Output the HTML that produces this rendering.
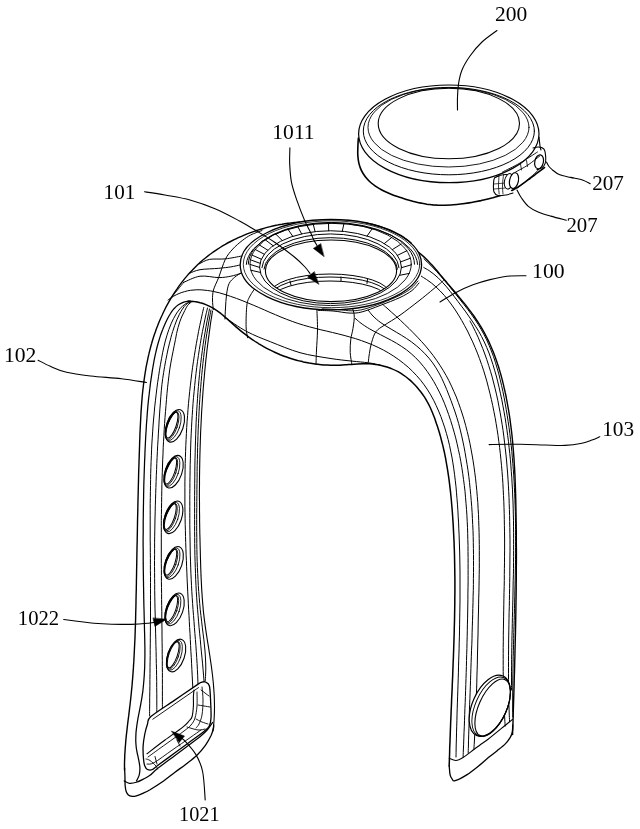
<!DOCTYPE html>
<html><head><meta charset="utf-8"><style>
html,body{margin:0;padding:0;background:#fff;width:640px;height:829px;overflow:hidden}
svg{display:block}
text{font-family:"Liberation Serif",serif;fill:#000;stroke:none}
svg{filter:grayscale(1)}
</style></head><body>
<svg width="640" height="829" viewBox="0 0 640 829" fill="none" stroke="#000" stroke-width="1.1" stroke-linecap="round" stroke-linejoin="round">
<path d="M358.4,138.0C358.3,139.0 358.1,141.9 358.0,143.9C357.9,145.9 357.8,148.0 357.8,150.1C357.7,152.1 357.7,154.2 357.9,156.3C358.0,158.3 358.3,160.3 358.7,162.3C359.1,164.3 359.7,166.2 360.4,168.1C361.1,170.0 362.0,171.8 363.1,173.5C364.1,175.1 365.3,176.8 366.6,178.3C367.8,179.8 369.2,181.2 370.7,182.5C372.2,183.8 373.8,185.0 375.4,186.2C377.0,187.3 378.8,188.3 380.5,189.3C382.3,190.3 384.1,191.2 386.0,192.0C387.9,192.9 389.8,193.7 391.7,194.4C393.6,195.2 395.6,195.9 397.6,196.6C399.5,197.2 401.5,197.9 403.4,198.5C405.4,199.1 407.3,199.7 409.3,200.3C411.2,200.8 413.2,201.4 415.1,201.8C417.1,202.3 419.0,202.8 421.0,203.1C423.0,203.5 424.9,203.9 426.9,204.2C428.9,204.4 430.8,204.7 432.8,204.9C434.8,205.0 436.8,205.1 438.8,205.2C440.8,205.3 442.8,205.3 444.8,205.3C446.8,205.2 448.8,205.1 450.9,205.0C452.9,204.9 454.9,204.7 456.9,204.5C458.9,204.3 460.9,204.1 462.9,203.8C465.0,203.5 467.0,203.2 469.0,202.9C471.0,202.6 473.0,202.2 475.0,201.8C477.0,201.4 479.0,201.0 481.0,200.6C483.0,200.1 485.0,199.7 486.9,199.2C488.9,198.7 490.9,198.2 492.8,197.7C494.8,197.1 496.7,196.6 498.6,196.0C500.5,195.4 502.4,194.7 504.3,194.0C506.1,193.2 507.9,192.4 509.7,191.6C511.5,190.7 513.3,189.8 515.0,188.8C516.8,187.8 518.5,186.7 520.1,185.6C521.8,184.5 523.5,183.3 525.1,182.1C526.8,181.0 528.4,179.7 530.0,178.5C531.6,177.3 533.2,176.0 534.9,174.8C536.5,173.6 538.1,172.3 539.7,171.1C541.3,169.9 543.7,168.1 544.5,167.5" stroke-width="1.6"/>
<ellipse cx="448.8" cy="133.85" rx="90.2" ry="48.85" stroke-width="1.2"/>
<ellipse cx="448.85" cy="131.1" rx="85.55" ry="43.7" stroke-width="1.0"/>
<ellipse cx="448.5" cy="127.35" rx="80.5" ry="39.65" stroke-width="0.9"/>
<ellipse cx="448.85" cy="123.55" rx="70.65" ry="35.25" stroke-width="1.1"/>
<path d="M539.0,137.0C539.2,138.5 539.7,143.8 540.0,146.0C540.3,148.2 540.8,149.3 541.0,150.0"/>
<path d="M499.0,176.0C498.2,176.3 495.4,176.7 494.5,178.0C493.6,179.3 493.6,181.7 493.5,184.0C493.4,186.3 493.2,190.1 494.0,192.0C494.8,193.9 496.0,195.0 498.0,195.5C500.0,196.0 503.5,195.4 506.0,195.0C508.5,194.6 511.8,193.3 513.0,193.0" stroke-width="1.1" fill="#fff"/>
<path d="M494.5,178.0C495.3,177.6 497.6,176.1 499.5,175.5C501.4,174.9 503.9,174.6 506.0,174.5C508.1,174.4 510.2,174.8 512.0,175.0C513.8,175.2 516.2,175.8 517.0,176.0" stroke-width="1.0"/>
<path d="M499.0,176.0C498.9,177.7 498.5,183.0 498.5,186.0C498.5,189.0 499.1,192.7 499.2,194.0" stroke-width="0.8"/>
<path d="M494.0,184.0L505.0,183.0" stroke-width="0.7"/>
<path d="M494.0,189.0L505.0,188.0" stroke-width="0.7"/>
<path d="M503.5,175.0C503.3,176.7 502.6,181.8 502.5,185.0C502.4,188.2 502.9,192.5 503.0,194.0" stroke-width="0.8"/>
<ellipse cx="508.8" cy="181.3" rx="4.3" ry="7.8" transform="rotate(12 508.8 181.3)" stroke-width="1.0" fill="#fff"/>
<ellipse cx="514" cy="180.6" rx="4.4" ry="8" transform="rotate(12 514 180.6)" stroke-width="1.2" fill="#fff"/>
<path d="M533.0,148.0C533.9,147.8 536.8,146.8 538.6,147.0C540.4,147.2 542.8,147.5 544.0,149.2C545.2,150.8 545.5,154.5 545.7,156.9C545.9,159.3 545.8,161.6 545.2,163.4C544.6,165.2 543.3,166.8 541.9,167.8C540.5,168.8 537.8,169.2 537.0,169.5" stroke-width="1.1"/>
<ellipse cx="539.1" cy="161.8" rx="4.3" ry="7.1" transform="rotate(12 539.1 161.8)" stroke-width="1.2" fill="#fff"/>
<path d="M502.5,172.0C505.4,170.5 514.2,166.3 520.0,163.0C525.8,159.7 534.6,153.8 537.5,152.0" stroke-width="0.9"/>
<path d="M515.6,172.0C517.7,170.8 524.0,167.7 528.0,165.0C532.0,162.3 537.8,157.5 539.7,156.0" stroke-width="0.9"/>
<path d="M520.5,164.0L521.5,170.0" stroke-width="0.8"/>
<path d="M526.5,160.5L527.5,166.5" stroke-width="0.8"/>
<path d="M517.8,188.0C520.5,185.7 530.5,177.3 534.2,174.0C537.9,170.7 539.0,169.0 540.0,168.0" stroke-width="0.9"/>
<path d="M300.0,222.0C299.0,222.1 296.0,222.3 294.0,222.5C292.1,222.7 290.1,223.0 288.1,223.2C286.1,223.5 284.1,223.8 282.1,224.2C280.1,224.5 278.2,224.9 276.2,225.3C274.2,225.7 272.2,226.1 270.3,226.6C268.3,227.1 266.4,227.6 264.4,228.2C262.5,228.7 260.5,229.3 258.6,229.9C256.7,230.5 254.7,231.1 252.8,231.8C250.9,232.5 249.0,233.2 247.1,233.9C245.3,234.7 243.4,235.5 241.5,236.3C239.7,237.1 237.8,237.9 236.0,238.8C234.2,239.7 232.4,240.6 230.6,241.5C228.8,242.4 227.0,243.4 225.3,244.4C223.5,245.4 221.8,246.4 220.1,247.5C218.4,248.6 216.7,249.7 215.0,250.8C213.4,251.9 211.8,253.1 210.1,254.3C208.5,255.5 207.0,256.7 205.4,258.0C203.8,259.2 202.3,260.5 200.8,261.8C199.3,263.2 197.8,264.5 196.4,265.9C195.0,267.3 193.6,268.7 192.2,270.2C190.8,271.6 189.5,273.1 188.1,274.6C186.8,276.1 185.5,277.6 184.3,279.1C183.0,280.7 181.8,282.3 180.6,283.9C179.4,285.5 178.2,287.1 177.1,288.8C175.9,290.4 174.8,292.1 173.7,293.8C172.7,295.5 171.6,297.2 170.6,298.9C169.6,300.6 168.6,302.4 167.6,304.2C166.6,305.9 165.7,307.7 164.8,309.5C163.9,311.3 163.0,313.1 162.2,315.0C161.3,316.8 160.5,318.6 159.7,320.5C158.9,322.3 158.2,324.2 157.5,326.1C156.7,328.0 156.0,329.9 155.4,331.8C154.7,333.7 154.0,335.6 153.4,337.5C152.8,339.4 152.2,341.3 151.7,343.2C151.1,345.2 150.6,347.1 150.1,349.1C149.6,351.0 149.1,352.9 148.7,354.9C148.2,356.8 147.8,358.8 147.4,360.8C147.0,362.7 146.6,364.7 146.2,366.7C145.9,368.6 145.5,370.6 145.2,372.6C144.9,374.6 144.6,376.6 144.3,378.6C144.0,380.5 143.8,382.5 143.5,384.5C143.3,386.5 143.1,388.5 142.8,390.5C142.6,392.5 142.4,394.5 142.2,396.5C142.1,398.5 141.9,400.6 141.7,402.6C141.6,404.6 141.4,406.6 141.3,408.6C141.1,410.6 141.0,412.6 140.9,414.7C140.8,416.7 140.7,418.7 140.6,420.7C140.5,422.7 140.4,424.7 140.3,426.8C140.2,428.8 140.1,430.8 140.0,432.8C139.9,434.8 139.9,436.9 139.8,438.9C139.7,440.9 139.6,442.9 139.6,444.9C139.5,447.0 139.4,449.0 139.4,451.0C139.3,453.0 139.2,455.0 139.2,457.0C139.1,459.0 139.0,461.1 139.0,463.1C138.9,465.1 138.9,467.1 138.8,469.1C138.7,471.1 138.7,473.1 138.6,475.1C138.6,477.2 138.5,479.2 138.5,481.2C138.4,483.2 138.4,485.2 138.3,487.2C138.3,489.2 138.2,491.2 138.2,493.2C138.1,495.2 138.1,497.2 138.0,499.3C138.0,501.3 137.9,503.3 137.9,505.3C137.8,507.3 137.8,509.3 137.8,511.3C137.7,513.3 137.7,515.3 137.6,517.3C137.6,519.3 137.5,521.3 137.5,523.3C137.5,525.3 137.4,527.3 137.4,529.3C137.4,531.4 137.3,533.4 137.3,535.4C137.2,537.4 137.2,539.4 137.2,541.4C137.1,543.4 137.1,545.4 137.0,547.4C137.0,549.4 137.0,551.4 136.9,553.4C136.9,555.4 136.9,557.4 136.8,559.4C136.8,561.4 136.8,563.4 136.7,565.4C136.7,567.5 136.6,569.5 136.6,571.5C136.6,573.5 136.5,575.5 136.5,577.5C136.4,579.5 136.4,581.5 136.4,583.5C136.3,585.5 136.3,587.5 136.3,589.5C136.2,591.5 136.2,593.6 136.1,595.6C136.1,597.6 136.0,599.6 136.0,601.6C136.0,603.6 135.9,605.6 135.9,607.6C135.8,609.6 135.8,611.6 135.7,613.7C135.7,615.7 135.6,617.7 135.6,619.7C135.5,621.7 135.4,623.7 135.4,625.7C135.3,627.7 135.2,629.7 135.2,631.7C135.1,633.8 135.0,635.8 135.0,637.8C134.9,639.8 134.8,641.8 134.7,643.8C134.6,645.8 134.5,647.8 134.4,649.8C134.3,651.8 134.2,653.9 134.1,655.9C134.0,657.9 133.9,659.9 133.8,661.9C133.6,663.9 133.5,665.9 133.4,667.9C133.2,669.9 133.1,671.9 133.0,673.9C132.8,675.9 132.7,677.9 132.5,679.9C132.3,681.9 132.2,683.9 132.0,686.0C131.8,688.0 131.6,690.0 131.4,692.0C131.2,694.0 131.0,696.0 130.8,698.0C130.6,700.0 130.3,702.0 130.1,704.0C129.9,706.0 129.6,707.9 129.4,709.9C129.2,711.9 128.9,713.9 128.7,715.9C128.4,717.9 128.2,719.9 127.9,721.9C127.7,723.9 127.4,725.9 127.2,727.9C127.0,729.9 126.8,731.9 126.5,733.9C126.3,735.9 126.1,737.9 125.9,739.9C125.7,741.9 125.6,743.9 125.4,745.9C125.2,747.9 125.1,749.9 125.0,751.9C124.8,753.9 124.7,755.9 124.7,757.9C124.6,759.9 124.5,761.9 124.5,764.0C124.5,766.0 124.5,769.0 124.5,770.0" stroke-width="1.4"/>
<path d="M190.0,301.0C189.0,301.2 185.8,301.6 183.8,302.2C181.9,302.9 180.0,303.8 178.4,304.8C176.7,305.9 175.3,307.3 174.0,308.7C172.7,310.2 171.5,311.8 170.5,313.5C169.4,315.2 168.4,317.0 167.5,318.8C166.6,320.6 165.7,322.4 164.9,324.2C164.1,326.1 163.3,327.9 162.6,329.8C161.8,331.7 161.2,333.5 160.5,335.4C159.9,337.4 159.3,339.3 158.7,341.2C158.1,343.1 157.6,345.1 157.1,347.0C156.6,349.0 156.1,351.0 155.7,352.9C155.2,354.9 154.8,356.9 154.4,358.9C154.0,360.9 153.7,362.9 153.3,364.9C153.0,366.9 152.6,368.9 152.3,370.9C152.0,372.9 151.7,374.9 151.4,376.9C151.1,378.9 150.8,380.9 150.5,382.9C150.3,384.9 150.0,386.9 149.8,388.9C149.5,390.9 149.3,392.9 149.1,394.9C148.8,396.9 148.6,398.9 148.4,400.9C148.2,402.9 148.0,404.9 147.8,406.9C147.7,408.9 147.5,410.9 147.3,412.9C147.2,414.9 147.0,416.9 146.9,418.9C146.7,420.9 146.6,422.9 146.4,425.0C146.3,427.0 146.2,429.0 146.1,431.0C145.9,433.0 145.8,435.0 145.7,437.0C145.6,439.0 145.5,441.0 145.4,443.0C145.3,445.0 145.2,447.1 145.1,449.1C145.0,451.1 144.9,453.1 144.9,455.1C144.8,457.1 144.7,459.1 144.6,461.1C144.5,463.1 144.5,465.1 144.4,467.2C144.3,469.2 144.3,471.2 144.2,473.2C144.1,475.2 144.1,477.2 144.0,479.2C143.9,481.2 143.9,483.3 143.8,485.3C143.8,487.3 143.7,489.3 143.7,491.3C143.6,493.3 143.6,495.3 143.6,497.3C143.5,499.4 143.5,501.4 143.5,503.4C143.4,505.4 143.4,507.4 143.4,509.4C143.3,511.4 143.3,513.5 143.3,515.5C143.3,517.5 143.2,519.5 143.2,521.5C143.2,523.5 143.2,525.5 143.2,527.6C143.2,529.6 143.2,531.6 143.2,533.6C143.1,535.6 143.1,537.6 143.1,539.7C143.1,541.7 143.1,543.7 143.1,545.7C143.2,547.7 143.2,549.7 143.2,551.8C143.2,553.8 143.2,555.8 143.2,557.8C143.2,559.8 143.2,561.8 143.2,563.9C143.3,565.9 143.3,567.9 143.3,569.9C143.3,571.9 143.4,573.9 143.4,576.0C143.4,578.0 143.4,580.0 143.5,582.0C143.5,584.0 143.5,586.0 143.6,588.1C143.6,590.1 143.6,592.1 143.7,594.1C143.7,596.1 143.7,598.2 143.8,600.2C143.8,602.2 143.9,604.2 143.9,606.2C144.0,608.2 144.0,610.3 144.1,612.3C144.1,614.3 144.2,616.3 144.2,618.3C144.3,620.4 144.3,622.4 144.4,624.4C144.4,626.4 144.5,628.4 144.5,630.5C144.6,632.5 144.6,634.5 144.7,636.5C144.7,638.5 144.8,640.5 144.8,642.6C144.8,644.6 144.9,646.6 144.9,648.6C144.9,650.6 144.9,652.6 144.9,654.7C144.9,656.7 144.9,658.7 144.8,660.7C144.8,662.7 144.7,664.7 144.7,666.7C144.6,668.7 144.5,670.7 144.4,672.8C144.3,674.8 144.2,676.8 144.0,678.8C143.9,680.8 143.7,682.8 143.5,684.8C143.3,686.8 143.1,688.8 142.9,690.8C142.6,692.8 142.3,694.8 142.0,696.8C141.7,698.7 141.4,700.7 141.0,702.7C140.7,704.7 140.3,706.7 139.9,708.7C139.5,710.7 139.1,712.7 138.7,714.6C138.3,716.6 137.9,718.6 137.6,720.6C137.3,722.6 136.9,724.6 136.7,726.6C136.4,728.6 136.2,730.6 136.0,732.6C135.9,734.6 135.8,736.6 135.8,738.6C135.7,740.6 135.8,742.6 136.0,744.7C136.1,746.7 136.4,748.7 136.8,750.8C137.1,752.8 137.6,754.9 138.1,756.9C138.5,759.0 139.0,761.0 139.3,763.1C139.7,765.1 140.0,767.1 139.9,769.1C139.9,771.2 139.8,773.2 139.2,775.1C138.6,777.1 136.9,780.0 136.5,781.0" stroke-width="1.25"/>
<path d="M190.0,301.5C189.1,302.0 186.3,303.3 184.7,304.4C183.1,305.6 181.7,306.9 180.3,308.3C179.0,309.8 177.8,311.4 176.7,313.0C175.6,314.7 174.6,316.5 173.7,318.3C172.8,320.0 171.9,321.9 171.1,323.8C170.3,325.6 169.6,327.5 168.9,329.4C168.2,331.3 167.6,333.2 167.0,335.1C166.4,337.1 165.9,339.0 165.3,341.0C164.8,342.9 164.4,344.9 163.9,346.9C163.5,348.9 163.0,350.8 162.6,352.8C162.2,354.8 161.9,356.8 161.5,358.8C161.1,360.8 160.8,362.8 160.4,364.8C160.1,366.8 159.8,368.8 159.4,370.8C159.1,372.8 158.8,374.8 158.5,376.8C158.2,378.8 157.9,380.8 157.6,382.8C157.4,384.8 157.1,386.8 156.8,388.9C156.6,390.9 156.3,392.9 156.1,394.9C155.8,396.9 155.6,398.9 155.4,400.9C155.2,402.9 154.9,404.9 154.7,406.9C154.5,408.9 154.3,410.9 154.2,412.9C154.0,415.0 153.8,417.0 153.6,419.0C153.5,421.0 153.3,423.0 153.1,425.0C153.0,427.0 152.8,429.0 152.7,431.1C152.6,433.1 152.4,435.1 152.3,437.1C152.2,439.1 152.1,441.1 151.9,443.1C151.8,445.2 151.7,447.2 151.6,449.2C151.5,451.2 151.4,453.2 151.4,455.2C151.3,457.3 151.2,459.3 151.1,461.3C151.0,463.3 151.0,465.3 150.9,467.3C150.8,469.4 150.8,471.4 150.7,473.4C150.7,475.4 150.6,477.4 150.6,479.5C150.5,481.5 150.5,483.5 150.5,485.5C150.4,487.5 150.4,489.6 150.4,491.6C150.3,493.6 150.3,495.6 150.3,497.6C150.3,499.7 150.2,501.7 150.2,503.7C150.2,505.7 150.2,507.7 150.2,509.8C150.2,511.8 150.2,513.8 150.2,515.8C150.2,517.9 150.2,519.9 150.2,521.9C150.2,523.9 150.2,525.9 150.2,528.0C150.2,530.0 150.2,532.0 150.2,534.0C150.2,536.1 150.2,538.1 150.2,540.1C150.3,542.1 150.3,544.2 150.3,546.2C150.3,548.2 150.3,550.2 150.3,552.2C150.3,554.3 150.3,556.3 150.4,558.3C150.4,560.3 150.4,562.4 150.4,564.4C150.4,566.4 150.4,568.4 150.4,570.5C150.4,572.5 150.5,574.5 150.5,576.5C150.5,578.5 150.5,580.6 150.5,582.6C150.5,584.6 150.5,586.6 150.5,588.7C150.5,590.7 150.5,592.7 150.5,594.7C150.5,596.7 150.5,598.8 150.5,600.8C150.5,602.8 150.5,604.8 150.5,606.9C150.5,608.9 150.5,610.9 150.5,612.9C150.5,614.9 150.5,617.0 150.5,619.0C150.5,621.0 150.4,623.0 150.4,625.0C150.4,627.1 150.4,629.1 150.4,631.1C150.4,633.1 150.4,635.2 150.3,637.2C150.3,639.2 150.3,641.2 150.3,643.2C150.3,645.3 150.2,647.3 150.2,649.3C150.2,651.3 150.2,653.3 150.2,655.4C150.2,657.4 150.1,659.4 150.1,661.4C150.1,663.4 150.1,665.5 150.0,667.5C150.0,669.5 150.0,671.5 150.0,673.5C150.0,675.6 149.9,677.6 149.9,679.6C149.9,681.6 149.9,683.7 149.9,685.7C149.8,687.7 149.8,689.7 149.8,691.7C149.8,693.8 149.8,695.8 149.7,697.8C149.7,699.8 149.7,701.8 149.7,703.9C149.7,705.9 149.7,707.9 149.6,709.9C149.6,712.0 149.6,715.0 149.6,716.0" stroke-width="1.0"/>
<path d="M191.0,301.5C190.2,302.0 187.5,303.3 186.0,304.5C184.6,305.8 183.5,307.5 182.4,309.1C181.3,310.7 180.4,312.5 179.4,314.3C178.5,316.1 177.6,318.0 176.8,319.9C176.0,321.8 175.3,323.7 174.6,325.7C173.9,327.6 173.3,329.5 172.7,331.5C172.0,333.4 171.5,335.3 171.0,337.3C170.4,339.2 169.9,341.1 169.5,343.1C169.0,345.0 168.5,347.0 168.1,348.9C167.7,350.9 167.3,352.8 166.9,354.8C166.5,356.8 166.1,358.7 165.7,360.7C165.4,362.7 165.0,364.7 164.6,366.7C164.3,368.7 163.9,370.7 163.6,372.7C163.3,374.7 162.9,376.7 162.7,378.7C162.4,380.7 162.1,382.7 161.9,384.8C161.7,386.8 161.5,388.8 161.3,390.8C161.1,392.8 160.9,394.8 160.8,396.8C160.6,398.9 160.5,400.9 160.4,402.9C160.2,404.9 160.1,406.9 159.9,408.9C159.8,410.9 159.7,413.0 159.5,415.0C159.4,417.0 159.3,419.0 159.1,421.0C159.0,423.0 158.9,425.1 158.8,427.1C158.6,429.1 158.5,431.1 158.4,433.1C158.3,435.1 158.2,437.2 158.1,439.2C158.0,441.2 157.8,443.2 157.7,445.2C157.6,447.2 157.5,449.3 157.4,451.3C157.3,453.3 157.2,455.3 157.1,457.3C157.0,459.4 156.9,461.4 156.8,463.4C156.7,465.4 156.7,467.4 156.6,469.5C156.5,471.5 156.4,473.5 156.3,475.5C156.2,477.5 156.2,479.6 156.1,481.6C156.0,483.6 155.9,485.6 155.9,487.6C155.8,489.7 155.7,491.7 155.7,493.7C155.6,495.7 155.5,497.7 155.5,499.8C155.4,501.8 155.4,503.8 155.3,505.8C155.3,507.8 155.2,509.9 155.2,511.9C155.1,513.9 155.1,515.9 155.0,518.0C155.0,520.0 154.9,522.0 154.9,524.0C154.9,526.0 154.8,528.1 154.8,530.1C154.8,532.1 154.7,534.1 154.7,536.1C154.7,538.2 154.7,540.2 154.6,542.2C154.6,544.2 154.6,546.3 154.6,548.3C154.6,550.3 154.6,552.3 154.6,554.3C154.5,556.4 154.5,558.4 154.5,560.4C154.5,562.4 154.5,564.5 154.5,566.5C154.5,568.5 154.6,570.5 154.6,572.5C154.6,574.6 154.6,576.6 154.6,578.6C154.6,580.6 154.6,582.7 154.7,584.7C154.7,586.7 154.7,588.7 154.7,590.7C154.8,592.8 154.8,594.8 154.8,596.8C154.9,598.8 154.9,600.8 154.9,602.9C155.0,604.9 155.0,606.9 155.0,608.9C155.1,610.9 155.1,613.0 155.2,615.0C155.2,617.0 155.3,619.0 155.3,621.0C155.4,623.1 155.4,625.1 155.5,627.1C155.5,629.1 155.6,631.2 155.6,633.2C155.7,635.2 155.7,637.2 155.8,639.2C155.8,641.3 155.9,643.3 155.9,645.3C156.0,647.3 156.0,649.3 156.1,651.4C156.1,653.4 156.2,655.4 156.2,657.4C156.3,659.4 156.3,661.5 156.3,663.5C156.4,665.5 156.4,667.5 156.5,669.5C156.5,671.6 156.5,673.6 156.6,675.6C156.6,677.6 156.6,679.6 156.7,681.7C156.7,683.7 156.7,685.7 156.7,687.7C156.8,689.8 156.8,691.8 156.8,693.8C156.8,695.8 156.8,697.8 156.8,699.9C156.8,701.9 156.8,703.9 156.8,705.9C156.8,708.0 156.8,711.0 156.8,712.0" stroke-width="1.0"/>
<path d="M192.0,301.5C191.3,302.1 188.9,303.8 187.7,305.3C186.5,306.8 185.7,308.7 184.8,310.5C183.8,312.3 182.9,314.1 182.1,316.0C181.2,317.9 180.5,319.8 179.8,321.8C179.1,323.7 178.5,325.6 178.0,327.6C177.5,329.5 177.0,331.5 176.6,333.4C176.2,335.4 175.8,337.3 175.5,339.3C175.1,341.3 174.7,343.3 174.3,345.2C173.9,347.2 173.5,349.2 173.1,351.2C172.7,353.2 172.2,355.2 171.9,357.2C171.5,359.1 171.1,361.1 170.8,363.1C170.4,365.1 170.1,367.1 169.8,369.1C169.5,371.2 169.3,373.2 169.0,375.2C168.7,377.2 168.5,379.2 168.3,381.2C168.0,383.2 167.8,385.2 167.6,387.2C167.4,389.2 167.2,391.3 167.0,393.3C166.8,395.3 166.6,397.3 166.5,399.3C166.3,401.3 166.1,403.4 166.0,405.4C165.8,407.4 165.6,409.4 165.5,411.4C165.3,413.5 165.2,415.5 165.0,417.5C164.9,419.5 164.8,421.5 164.6,423.5C164.5,425.6 164.4,427.6 164.2,429.6C164.1,431.6 164.0,433.6 163.9,435.7C163.8,437.7 163.7,439.7 163.5,441.7C163.4,443.8 163.3,445.8 163.2,447.8C163.1,449.8 163.1,451.8 163.0,453.9C162.9,455.9 162.8,457.9 162.7,459.9C162.6,462.0 162.6,464.0 162.5,466.0C162.4,468.0 162.3,470.0 162.3,472.1C162.2,474.1 162.2,476.1 162.1,478.1C162.0,480.2 162.0,482.2 161.9,484.2C161.9,486.2 161.8,488.3 161.8,490.3C161.7,492.3 161.7,494.3 161.7,496.4C161.6,498.4 161.6,500.4 161.6,502.4C161.5,504.5 161.5,506.5 161.5,508.5C161.4,510.5 161.4,512.6 161.4,514.6C161.4,516.6 161.4,518.6 161.3,520.7C161.3,522.7 161.3,524.7 161.3,526.7C161.3,528.8 161.3,530.8 161.3,532.8C161.3,534.8 161.3,536.9 161.3,538.9C161.3,540.9 161.3,542.9 161.3,545.0C161.3,547.0 161.3,549.0 161.3,551.0C161.3,553.1 161.3,555.1 161.3,557.1C161.3,559.2 161.3,561.2 161.3,563.2C161.3,565.2 161.3,567.3 161.4,569.3C161.4,571.3 161.4,573.3 161.4,575.4C161.4,577.4 161.4,579.4 161.4,581.4C161.5,583.5 161.5,585.5 161.5,587.5C161.5,589.5 161.5,591.6 161.6,593.6C161.6,595.6 161.6,597.6 161.6,599.7C161.7,601.7 161.7,603.7 161.7,605.7C161.7,607.8 161.7,609.8 161.8,611.8C161.8,613.8 161.8,615.9 161.8,617.9C161.9,619.9 161.9,621.9 161.9,624.0C161.9,626.0 162.0,628.0 162.0,630.0C162.0,632.1 162.0,634.1 162.0,636.1C162.1,638.1 162.1,640.1 162.1,642.2C162.1,644.2 162.2,646.2 162.2,648.2C162.2,650.3 162.2,652.3 162.2,654.3C162.3,656.3 162.3,658.4 162.3,660.4C162.3,662.4 162.3,664.4 162.3,666.5C162.3,668.5 162.4,670.5 162.4,672.5C162.4,674.6 162.4,676.6 162.4,678.6C162.4,680.6 162.4,682.7 162.4,684.7C162.4,686.7 162.4,688.7 162.4,690.8C162.4,692.8 162.4,694.8 162.4,696.8C162.4,698.9 162.4,700.9 162.4,702.9C162.4,704.9 162.4,708.0 162.4,709.0" stroke-width="1.0"/>
<path d="M203.8,307.5C203.5,308.5 202.8,311.5 202.4,313.4C201.9,315.4 201.5,317.4 201.1,319.4C200.6,321.4 200.2,323.4 199.8,325.4C199.4,327.4 199.0,329.3 198.6,331.3C198.2,333.3 197.8,335.3 197.5,337.3C197.1,339.3 196.7,341.3 196.4,343.3C196.0,345.3 195.7,347.3 195.4,349.3C195.0,351.3 194.7,353.2 194.4,355.2C194.1,357.2 193.8,359.2 193.5,361.2C193.2,363.2 192.9,365.2 192.6,367.2C192.4,369.2 192.1,371.2 191.8,373.2C191.6,375.2 191.3,377.2 191.1,379.2C190.8,381.2 190.6,383.2 190.4,385.2C190.1,387.3 189.9,389.3 189.7,391.3C189.5,393.3 189.3,395.3 189.1,397.3C188.9,399.3 188.7,401.3 188.5,403.3C188.4,405.3 188.2,407.3 188.0,409.3C187.9,411.3 187.7,413.3 187.6,415.4C187.4,417.4 187.3,419.4 187.1,421.4C187.0,423.4 186.9,425.4 186.7,427.4C186.6,429.4 186.5,431.4 186.4,433.5C186.3,435.5 186.2,437.5 186.1,439.5C186.0,441.5 185.9,443.5 185.8,445.5C185.7,447.6 185.6,449.6 185.6,451.6C185.5,453.6 185.4,455.6 185.4,457.6C185.3,459.7 185.3,461.7 185.2,463.7C185.2,465.7 185.1,467.7 185.1,469.7C185.0,471.8 185.0,473.8 185.0,475.8C185.0,477.8 184.9,479.8 184.9,481.9C184.9,483.9 184.9,485.9 184.9,487.9C184.9,489.9 184.9,492.0 184.9,494.0C184.9,496.0 184.9,498.0 184.9,500.0C184.9,502.1 184.9,504.1 184.9,506.1C185.0,508.1 185.0,510.2 185.0,512.2C185.0,514.2 185.1,516.2 185.1,518.2C185.1,520.3 185.2,522.3 185.2,524.3C185.3,526.3 185.3,528.4 185.4,530.4C185.4,532.4 185.5,534.4 185.5,536.4C185.6,538.5 185.6,540.5 185.7,542.5C185.8,544.5 185.8,546.6 185.9,548.6C186.0,550.6 186.0,552.6 186.1,554.7C186.2,556.7 186.3,558.7 186.4,560.7C186.4,562.7 186.5,564.8 186.6,566.8C186.7,568.8 186.8,570.8 186.9,572.9C186.9,574.9 187.0,576.9 187.1,578.9C187.2,581.0 187.3,583.0 187.4,585.0C187.5,587.0 187.6,589.0 187.7,591.1C187.8,593.1 187.9,595.1 188.0,597.1C188.1,599.2 188.2,601.2 188.3,603.2C188.4,605.2 188.5,607.2 188.6,609.3C188.7,611.3 188.9,613.3 189.0,615.3C189.1,617.3 189.2,619.4 189.3,621.4C189.4,623.4 189.5,625.4 189.6,627.4C189.7,629.5 189.8,631.5 190.0,633.5C190.1,635.5 190.2,637.5 190.3,639.6C190.4,641.6 190.5,643.6 190.6,645.6C190.7,647.6 190.8,649.7 190.9,651.7C191.1,653.7 191.2,655.7 191.3,657.7C191.4,659.7 191.5,661.8 191.6,663.8C191.7,665.8 191.8,667.8 191.9,669.8C192.0,671.8 192.1,673.8 192.2,675.9C192.3,677.9 192.4,679.9 192.5,681.9C192.6,683.9 192.7,685.9 192.8,687.9C192.9,689.9 193.0,692.0 193.1,694.0C193.2,696.0 193.4,699.0 193.4,700.0" stroke-width="1.0"/>
<path d="M207.5,308.0C207.3,309.0 206.6,311.9 206.1,313.9C205.7,315.9 205.2,317.9 204.8,319.8C204.4,321.8 204.0,323.8 203.6,325.8C203.2,327.7 202.8,329.7 202.4,331.7C202.0,333.7 201.6,335.7 201.3,337.7C200.9,339.6 200.6,341.6 200.3,343.6C199.9,345.6 199.6,347.6 199.3,349.6C199.0,351.6 198.7,353.6 198.4,355.6C198.1,357.6 197.8,359.6 197.5,361.6C197.2,363.5 197.0,365.5 196.7,367.5C196.5,369.5 196.2,371.5 196.0,373.5C195.7,375.5 195.5,377.6 195.3,379.6C195.1,381.6 194.9,383.6 194.7,385.6C194.5,387.6 194.3,389.6 194.1,391.6C193.9,393.6 193.7,395.6 193.5,397.6C193.4,399.6 193.2,401.6 193.0,403.7C192.9,405.7 192.7,407.7 192.6,409.7C192.5,411.7 192.3,413.7 192.2,415.7C192.1,417.7 191.9,419.8 191.8,421.8C191.7,423.8 191.6,425.8 191.5,427.8C191.4,429.8 191.3,431.9 191.2,433.9C191.1,435.9 191.0,437.9 190.9,439.9C190.9,442.0 190.8,444.0 190.7,446.0C190.7,448.0 190.6,450.0 190.5,452.1C190.5,454.1 190.4,456.1 190.4,458.1C190.3,460.1 190.3,462.2 190.2,464.2C190.2,466.2 190.1,468.2 190.1,470.2C190.1,472.3 190.0,474.3 190.0,476.3C190.0,478.3 190.0,480.4 189.9,482.4C189.9,484.4 189.9,486.4 189.9,488.4C189.9,490.5 189.8,492.5 189.8,494.5C189.8,496.5 189.8,498.5 189.8,500.6C189.8,502.6 189.8,504.6 189.8,506.6C189.8,508.6 189.8,510.7 189.8,512.7C189.8,514.7 189.8,516.7 189.8,518.7C189.8,520.8 189.8,522.8 189.8,524.8C189.9,526.8 189.9,528.8 189.9,530.9C189.9,532.9 189.9,534.9 190.0,536.9C190.0,538.9 190.0,540.9 190.1,543.0C190.1,545.0 190.1,547.0 190.2,549.0C190.2,551.0 190.3,553.0 190.3,555.1C190.4,557.1 190.4,559.1 190.5,561.1C190.6,563.1 190.6,565.1 190.7,567.1C190.8,569.2 190.9,571.2 190.9,573.2C191.0,575.2 191.1,577.2 191.2,579.2C191.3,581.2 191.4,583.2 191.5,585.3C191.6,587.3 191.7,589.3 191.8,591.3C192.0,593.3 192.1,595.3 192.2,597.3C192.3,599.3 192.5,601.4 192.6,603.4C192.7,605.4 192.9,607.4 193.0,609.4C193.2,611.4 193.3,613.4 193.5,615.4C193.6,617.4 193.8,619.4 194.0,621.5C194.1,623.5 194.3,625.5 194.4,627.5C194.6,629.5 194.8,631.5 194.9,633.5C195.1,635.5 195.2,637.5 195.4,639.5C195.5,641.6 195.7,643.6 195.9,645.6C196.0,647.6 196.2,649.6 196.3,651.6C196.4,653.6 196.6,655.6 196.7,657.6C196.8,659.7 197.0,661.7 197.1,663.7C197.2,665.7 197.3,667.7 197.4,669.7C197.5,671.7 197.6,673.8 197.7,675.8C197.8,677.8 197.9,679.8 197.9,681.8C198.0,683.8 198.0,685.9 198.1,687.9C198.1,689.9 198.1,691.9 198.1,693.9C198.1,696.0 198.1,699.0 198.1,700.0" stroke-width="1.0"/>
<path d="M209.5,309.0C209.3,310.0 208.7,313.0 208.3,314.9C207.9,316.9 207.5,318.9 207.1,320.9C206.7,322.8 206.4,324.8 206.0,326.8C205.7,328.8 205.3,330.8 205.0,332.8C204.6,334.7 204.3,336.7 204.0,338.7C203.7,340.7 203.4,342.7 203.1,344.7C202.8,346.7 202.5,348.7 202.3,350.7C202.0,352.7 201.7,354.6 201.5,356.6C201.2,358.6 201.0,360.6 200.8,362.6C200.5,364.6 200.3,366.6 200.1,368.6C199.9,370.6 199.7,372.6 199.5,374.6C199.3,376.6 199.1,378.6 198.9,380.6C198.7,382.6 198.5,384.6 198.4,386.6C198.2,388.6 198.1,390.6 197.9,392.6C197.8,394.6 197.6,396.6 197.5,398.7C197.3,400.7 197.2,402.7 197.1,404.7C197.0,406.7 196.8,408.7 196.7,410.7C196.6,412.7 196.5,414.7 196.4,416.7C196.3,418.7 196.2,420.7 196.1,422.8C196.0,424.8 195.9,426.8 195.9,428.8C195.8,430.8 195.7,432.8 195.7,434.8C195.6,436.8 195.5,438.9 195.5,440.9C195.4,442.9 195.3,444.9 195.3,446.9C195.2,448.9 195.2,450.9 195.2,452.9C195.1,455.0 195.1,457.0 195.0,459.0C195.0,461.0 195.0,463.0 194.9,465.0C194.9,467.0 194.9,469.1 194.8,471.1C194.8,473.1 194.8,475.1 194.8,477.1C194.8,479.1 194.7,481.2 194.7,483.2C194.7,485.2 194.7,487.2 194.7,489.2C194.7,491.2 194.7,493.2 194.6,495.3C194.6,497.3 194.6,499.3 194.6,501.3C194.6,503.3 194.6,505.3 194.6,507.3C194.6,509.4 194.6,511.4 194.6,513.4C194.6,515.4 194.6,517.4 194.6,519.4C194.6,521.4 194.6,523.5 194.6,525.5C194.6,527.5 194.6,529.5 194.6,531.5C194.6,533.5 194.6,535.5 194.7,537.5C194.7,539.6 194.7,541.6 194.7,543.6C194.7,545.6 194.8,547.6 194.8,549.6C194.8,551.6 194.9,553.6 194.9,555.6C195.0,557.6 195.0,559.7 195.1,561.7C195.1,563.7 195.2,565.7 195.3,567.7C195.3,569.7 195.4,571.7 195.5,573.7C195.5,575.7 195.6,577.7 195.7,579.7C195.8,581.7 195.9,583.8 196.0,585.8C196.1,587.8 196.2,589.8 196.3,591.8C196.4,593.8 196.6,595.8 196.7,597.8C196.8,599.8 197.0,601.8 197.1,603.8C197.3,605.8 197.4,607.8 197.6,609.8C197.7,611.8 197.9,613.8 198.1,615.8C198.2,617.8 198.4,619.8 198.6,621.8C198.7,623.8 198.9,625.8 199.1,627.8C199.3,629.8 199.5,631.8 199.7,633.8C199.9,635.8 200.1,637.8 200.3,639.8C200.4,641.8 200.6,643.8 200.8,645.8C201.0,647.8 201.2,649.8 201.4,651.9C201.6,653.9 201.8,655.9 202.0,657.9C202.2,659.9 202.4,661.9 202.6,663.9C202.7,665.9 202.9,667.9 203.1,669.9C203.3,671.9 203.4,673.9 203.6,675.9C203.8,677.9 203.9,679.9 204.1,681.9C204.2,683.9 204.4,685.9 204.5,687.9C204.6,689.9 204.8,692.0 204.9,694.0C205.0,696.0 205.1,699.0 205.2,700.0" stroke-width="1.0"/>
<path d="M211.0,310.0C210.8,311.0 210.2,314.0 209.9,315.9C209.5,317.9 209.1,319.9 208.8,321.9C208.4,323.8 208.1,325.8 207.8,327.8C207.5,329.8 207.1,331.8 206.8,333.7C206.5,335.7 206.2,337.7 205.9,339.7C205.7,341.7 205.4,343.6 205.1,345.6C204.8,347.6 204.6,349.6 204.3,351.6C204.1,353.6 203.8,355.6 203.6,357.5C203.4,359.5 203.1,361.5 202.9,363.5C202.7,365.5 202.5,367.5 202.3,369.5C202.1,371.5 201.9,373.4 201.7,375.4C201.5,377.4 201.3,379.4 201.2,381.4C201.0,383.4 200.8,385.4 200.7,387.4C200.5,389.4 200.4,391.4 200.2,393.4C200.1,395.4 199.9,397.3 199.8,399.3C199.7,401.3 199.5,403.3 199.4,405.3C199.3,407.3 199.2,409.3 199.1,411.3C199.0,413.3 198.9,415.3 198.8,417.3C198.7,419.3 198.6,421.3 198.5,423.3C198.4,425.3 198.3,427.3 198.2,429.3C198.2,431.3 198.1,433.3 198.0,435.3C197.9,437.3 197.9,439.3 197.8,441.3C197.8,443.3 197.7,445.3 197.6,447.3C197.6,449.3 197.5,451.3 197.5,453.3C197.4,455.3 197.4,457.3 197.4,459.3C197.3,461.3 197.3,463.3 197.2,465.3C197.2,467.3 197.2,469.3 197.1,471.3C197.1,473.3 197.1,475.3 197.1,477.3C197.0,479.3 197.0,481.3 197.0,483.3C197.0,485.3 196.9,487.3 196.9,489.3C196.9,491.3 196.9,493.3 196.9,495.3C196.8,497.3 196.8,499.3 196.8,501.3C196.8,503.3 196.8,505.3 196.8,507.3C196.8,509.3 196.7,511.3 196.7,513.4C196.7,515.4 196.7,517.4 196.7,519.4C196.7,521.4 196.7,523.4 196.7,525.4C196.7,527.4 196.7,529.4 196.7,531.4C196.7,533.4 196.7,535.4 196.8,537.4C196.8,539.4 196.8,541.4 196.8,543.4C196.8,545.4 196.9,547.4 196.9,549.4C196.9,551.4 197.0,553.4 197.0,555.4C197.1,557.4 197.1,559.4 197.2,561.4C197.3,563.4 197.3,565.4 197.4,567.4C197.5,569.4 197.6,571.4 197.7,573.4C197.7,575.4 197.8,577.4 198.0,579.4C198.1,581.4 198.2,583.4 198.3,585.4C198.4,587.4 198.6,589.4 198.7,591.4C198.8,593.4 199.0,595.4 199.2,597.3C199.3,599.3 199.5,601.3 199.7,603.3C199.9,605.3 200.0,607.3 200.2,609.3C200.4,611.3 200.7,613.3 200.9,615.3C201.1,617.2 201.3,619.2 201.6,621.2C201.8,623.2 202.0,625.2 202.3,627.2C202.5,629.2 202.8,631.1 203.0,633.1C203.3,635.1 203.5,637.1 203.8,639.1C204.0,641.1 204.2,643.1 204.4,645.0C204.6,647.0 204.8,649.0 205.0,651.0C205.2,653.0 205.3,655.0 205.4,657.0C205.6,659.0 205.7,661.0 205.7,663.0C205.8,665.0 205.8,667.0 205.8,669.0C205.8,671.0 205.7,673.0 205.6,675.0C205.5,677.0 205.3,680.0 205.2,681.0" stroke-width="1.0"/>
<path d="M212.5,311.0C212.3,312.0 211.9,315.0 211.6,317.0C211.2,319.0 210.9,320.9 210.6,322.9C210.3,324.9 210.1,326.9 209.8,328.9C209.5,330.9 209.2,332.9 209.0,334.9C208.7,336.9 208.4,338.9 208.2,340.8C207.9,342.8 207.7,344.8 207.4,346.8C207.2,348.8 206.9,350.8 206.7,352.8C206.5,354.8 206.3,356.8 206.0,358.8C205.8,360.8 205.6,362.8 205.4,364.8C205.2,366.8 205.0,368.8 204.8,370.8C204.6,372.8 204.4,374.8 204.3,376.8C204.1,378.8 203.9,380.8 203.7,382.8C203.6,384.8 203.4,386.8 203.2,388.8C203.1,390.8 202.9,392.8 202.8,394.8C202.6,396.8 202.5,398.8 202.4,400.8C202.2,402.8 202.1,404.8 202.0,406.8C201.8,408.8 201.7,410.8 201.6,412.8C201.5,414.8 201.4,416.8 201.3,418.8C201.2,420.8 201.1,422.8 201.0,424.8C200.9,426.8 200.8,428.8 200.7,430.8C200.6,432.8 200.5,434.8 200.5,436.8C200.4,438.8 200.3,440.9 200.3,442.9C200.2,444.9 200.1,446.9 200.1,448.9C200.0,450.9 200.0,452.9 199.9,454.9C199.9,456.9 199.8,458.9 199.8,460.9C199.7,462.9 199.7,464.9 199.7,466.9C199.6,468.9 199.6,471.0 199.6,473.0C199.5,475.0 199.5,477.0 199.5,479.0C199.5,481.0 199.5,483.0 199.5,485.0C199.5,487.0 199.4,489.0 199.4,491.0C199.4,493.0 199.4,495.1 199.4,497.1C199.4,499.1 199.5,501.1 199.5,503.1C199.5,505.1 199.5,507.1 199.5,509.1C199.5,511.1 199.5,513.1 199.6,515.1C199.6,517.2 199.6,519.2 199.6,521.2C199.7,523.2 199.7,525.2 199.7,527.2C199.8,529.2 199.8,531.2 199.8,533.2C199.9,535.2 199.9,537.2 200.0,539.2C200.0,541.3 200.1,543.3 200.1,545.3C200.2,547.3 200.2,549.3 200.3,551.3C200.3,553.3 200.4,555.3 200.4,557.3C200.5,559.3 200.6,561.3 200.6,563.3C200.7,565.4 200.7,567.4 200.8,569.4C200.9,571.4 201.0,573.4 201.0,575.4C201.1,577.4 201.2,579.4 201.3,581.4C201.4,583.4 201.5,585.4 201.6,587.4C201.7,589.4 201.8,591.4 202.0,593.4C202.1,595.4 202.2,597.4 202.4,599.4C202.5,601.4 202.7,603.4 202.9,605.4C203.1,607.4 203.2,609.4 203.4,611.4C203.6,613.4 203.9,615.4 204.1,617.4C204.3,619.4 204.6,621.4 204.9,623.4C205.1,625.3 205.4,627.3 205.7,629.3C206.0,631.3 206.3,633.3 206.6,635.3C206.9,637.3 207.2,639.2 207.5,641.2C207.8,643.2 208.2,645.2 208.5,647.2C208.8,649.2 209.1,651.1 209.4,653.1C209.7,655.1 210.1,657.1 210.3,659.1C210.6,661.1 210.9,663.1 211.2,665.1C211.5,667.1 211.7,669.1 212.0,671.1C212.2,673.1 212.5,675.1 212.7,677.0C212.9,679.0 213.1,681.0 213.3,683.0C213.5,685.0 213.6,687.0 213.8,689.1C213.9,691.1 214.1,693.1 214.2,695.1C214.3,697.1 214.3,699.1 214.4,701.1C214.4,703.1 214.5,705.1 214.5,707.1C214.5,709.1 214.4,711.1 214.4,713.1C214.3,715.1 214.2,717.1 214.1,719.0C214.0,721.0 213.8,723.0 213.7,725.0C213.5,727.0 213.1,730.0 213.0,731.0" stroke-width="1.1"/>
<path d="M188.0,301.2C189.0,301.3 192.2,301.3 194.2,301.6C196.3,301.8 198.2,302.2 200.2,302.8C202.1,303.3 204.0,303.9 205.8,304.6C207.7,305.4 209.4,306.2 211.2,307.2C212.9,308.1 214.6,309.1 216.2,310.2C217.9,311.3 219.5,312.5 221.1,313.7C222.6,315.0 224.2,316.3 225.7,317.6C227.2,318.9 228.7,320.2 230.2,321.6C231.7,322.9 233.2,324.3 234.7,325.6C236.2,327.0 237.8,328.3 239.3,329.6C240.8,330.9 242.4,332.2 244.0,333.4C245.6,334.7 247.2,335.9 248.8,337.1C250.4,338.3 252.1,339.4 253.7,340.5C255.4,341.7 257.1,342.7 258.8,343.8C260.5,344.8 262.2,345.9 264.0,346.8C265.7,347.8 267.5,348.8 269.3,349.7C271.1,350.6 272.9,351.5 274.7,352.3C276.6,353.1 278.4,353.9 280.3,354.7C282.1,355.4 284.0,356.2 285.9,356.8C287.8,357.5 289.7,358.2 291.6,358.8C293.6,359.4 295.5,359.9 297.4,360.4C299.4,361.0 301.4,361.4 303.3,361.9C305.3,362.3 307.3,362.7 309.2,363.1C311.2,363.4 313.2,363.7 315.2,364.0C317.2,364.3 319.2,364.5 321.2,364.7C323.2,364.9 325.2,365.0 327.3,365.1C329.3,365.2 331.3,365.3 333.3,365.3C335.3,365.3 337.4,365.2 339.4,365.2C341.4,365.1 343.4,364.9 345.4,364.8C347.5,364.7 349.5,364.5 351.5,364.4C353.5,364.2 355.5,364.1 357.5,364.0C359.5,363.9 361.5,363.8 363.5,363.7C365.5,363.7 367.5,363.7 369.5,363.8C371.5,363.9 373.5,364.1 375.4,364.4C377.4,364.6 379.4,365.0 381.3,365.4C383.2,365.8 385.2,366.4 387.0,367.0C388.9,367.6 390.8,368.3 392.6,369.1C394.4,369.8 396.2,370.7 398.0,371.7C399.7,372.7 401.4,373.7 403.1,374.9C404.8,376.0 406.4,377.2 408.0,378.5C409.5,379.8 411.1,381.1 412.5,382.5C414.0,384.0 415.4,385.4 416.8,387.0C418.1,388.5 419.4,390.1 420.7,391.7C421.9,393.3 423.1,395.0 424.2,396.7C425.3,398.4 426.3,400.1 427.3,401.9C428.3,403.6 429.2,405.4 430.1,407.3C430.9,409.1 431.7,410.9 432.5,412.7C433.2,414.6 434.0,416.5 434.7,418.3C435.3,420.2 436.0,422.1 436.6,424.0C437.3,425.9 437.9,427.8 438.5,429.7C439.1,431.6 439.6,433.5 440.2,435.4C440.7,437.4 441.2,439.3 441.7,441.2C442.2,443.2 442.7,445.1 443.2,447.1C443.6,449.0 444.1,451.0 444.5,452.9C444.9,454.9 445.3,456.9 445.7,458.8C446.0,460.8 446.4,462.8 446.7,464.8C447.1,466.7 447.4,468.7 447.7,470.7C448.0,472.7 448.3,474.7 448.6,476.7C448.9,478.7 449.2,480.7 449.4,482.7C449.7,484.7 449.9,486.7 450.1,488.7C450.4,490.7 450.6,492.7 450.8,494.7C451.0,496.7 451.2,498.7 451.4,500.8C451.5,502.8 451.7,504.8 451.9,506.8C452.1,508.8 452.2,510.8 452.4,512.8C452.5,514.8 452.7,516.8 452.8,518.9C452.9,520.9 453.1,522.9 453.2,524.9C453.3,526.9 453.4,528.9 453.5,530.9C453.6,532.9 453.7,534.9 453.8,537.0C453.9,539.0 454.0,541.0 454.1,543.0C454.1,545.0 454.2,547.0 454.3,549.0C454.4,551.0 454.4,553.0 454.5,555.0C454.5,557.1 454.6,559.1 454.6,561.1C454.7,563.1 454.7,565.1 454.7,567.1C454.8,569.1 454.8,571.1 454.8,573.1C454.8,575.1 454.9,577.1 454.9,579.2C454.9,581.2 454.9,583.2 454.9,585.2C454.9,587.2 454.9,589.2 454.9,591.2C454.9,593.2 454.9,595.2 454.8,597.2C454.8,599.2 454.8,601.2 454.8,603.3C454.8,605.3 454.7,607.3 454.7,609.3C454.7,611.3 454.6,613.3 454.6,615.3C454.6,617.3 454.5,619.3 454.5,621.3C454.4,623.3 454.4,625.3 454.3,627.3C454.3,629.4 454.2,631.4 454.2,633.4C454.1,635.4 454.0,637.4 454.0,639.4C453.9,641.4 453.9,643.4 453.8,645.4C453.7,647.4 453.7,649.4 453.6,651.4C453.5,653.5 453.4,655.5 453.4,657.5C453.3,659.5 453.2,661.5 453.1,663.5C453.1,665.5 453.0,667.5 452.9,669.5C452.8,671.5 452.7,673.5 452.7,675.5C452.6,677.6 452.5,679.6 452.4,681.6C452.3,683.6 452.2,685.6 452.2,687.6C452.1,689.6 452.0,691.6 451.9,693.6C451.8,695.6 451.7,697.6 451.6,699.6C451.6,701.7 451.5,703.7 451.4,705.7C451.3,707.7 451.2,709.7 451.1,711.7C451.1,713.7 451.0,715.7 450.9,717.7C450.8,719.7 450.7,721.8 450.6,723.8C450.6,725.8 450.5,727.8 450.4,729.8C450.3,731.8 450.3,733.8 450.2,735.8C450.1,737.8 450.0,739.8 450.0,741.9C449.9,743.9 449.8,745.9 449.7,747.9C449.7,749.9 449.6,751.9 449.6,753.9C449.5,755.9 449.4,758.0 449.4,760.0C449.3,762.0 449.2,765.0 449.2,766.0" stroke-width="1.5"/>
<path d="M414.0,249.0C414.8,249.6 417.3,251.3 418.9,252.5C420.4,253.8 421.9,255.1 423.4,256.4C424.9,257.7 426.3,259.1 427.7,260.5C429.1,261.9 430.4,263.4 431.8,264.8C433.1,266.3 434.4,267.8 435.7,269.3C437.0,270.8 438.3,272.3 439.6,273.9C440.9,275.4 442.1,277.0 443.4,278.5C444.7,280.0 446.0,281.6 447.3,283.1C448.6,284.6 449.9,286.2 451.2,287.7C452.5,289.2 453.9,290.8 455.2,292.3C456.5,293.9 457.8,295.4 459.0,297.0C460.3,298.5 461.6,300.1 462.9,301.7C464.2,303.2 465.4,304.8 466.7,306.4C467.9,308.0 469.1,309.6 470.3,311.2C471.5,312.8 472.7,314.4 473.9,316.0C475.0,317.7 476.1,319.3 477.2,321.0C478.3,322.7 479.4,324.3 480.4,326.0C481.5,327.7 482.5,329.5 483.4,331.2C484.4,332.9 485.3,334.7 486.3,336.5C487.2,338.2 488.0,340.0 488.9,341.8C489.7,343.6 490.5,345.4 491.3,347.2C492.1,349.1 492.8,350.9 493.6,352.8C494.3,354.6 495.0,356.5 495.7,358.4C496.4,360.2 497.0,362.1 497.6,364.0C498.3,365.9 498.9,367.8 499.4,369.7C500.0,371.7 500.6,373.6 501.1,375.5C501.6,377.4 502.1,379.4 502.6,381.3C503.1,383.3 503.6,385.2 504.0,387.2C504.5,389.1 504.9,391.1 505.3,393.0C505.8,395.0 506.2,397.0 506.5,398.9C506.9,400.9 507.3,402.9 507.6,404.8C508.0,406.8 508.3,408.8 508.7,410.8C509.0,412.7 509.3,414.7 509.6,416.7C509.9,418.7 510.2,420.7 510.4,422.6C510.7,424.6 510.9,426.6 511.2,428.6C511.4,430.6 511.7,432.6 511.9,434.5C512.1,436.5 512.3,438.5 512.5,440.5C512.7,442.5 512.9,444.5 513.0,446.5C513.2,448.5 513.4,450.5 513.5,452.5C513.7,454.5 513.8,456.4 514.0,458.4C514.1,460.4 514.2,462.4 514.3,464.4C514.5,466.4 514.6,468.4 514.7,470.4C514.8,472.4 514.9,474.4 515.0,476.4C515.1,478.4 515.1,480.4 515.2,482.4C515.3,484.4 515.4,486.4 515.4,488.4C515.5,490.4 515.6,492.4 515.6,494.4C515.7,496.4 515.7,498.4 515.8,500.4C515.8,502.4 515.9,504.4 515.9,506.4C515.9,508.5 516.0,510.5 516.0,512.5C516.0,514.5 516.1,516.5 516.1,518.5C516.1,520.5 516.2,522.5 516.2,524.5C516.2,526.5 516.2,528.5 516.3,530.5C516.3,532.5 516.3,534.5 516.3,536.5C516.3,538.5 516.3,540.5 516.3,542.5C516.3,544.5 516.4,546.5 516.4,548.5C516.4,550.5 516.4,552.5 516.4,554.5C516.4,556.5 516.4,558.5 516.4,560.5C516.4,562.5 516.4,564.5 516.3,566.5C516.3,568.5 516.3,570.5 516.3,572.5C516.3,574.5 516.3,576.5 516.3,578.5C516.3,580.5 516.2,582.5 516.2,584.5C516.2,586.5 516.2,588.5 516.2,590.5C516.1,592.5 516.1,594.5 516.1,596.5C516.1,598.5 516.0,600.5 516.0,602.5C516.0,604.5 515.9,606.5 515.9,608.5C515.9,610.5 515.8,612.5 515.8,614.5C515.8,616.5 515.7,618.5 515.7,620.5C515.7,622.5 515.6,624.5 515.6,626.5C515.5,628.5 515.5,630.5 515.5,632.5C515.4,634.5 515.4,636.5 515.3,638.5C515.3,640.5 515.2,642.5 515.2,644.5C515.1,646.5 515.1,648.5 515.0,650.5C515.0,652.5 514.9,654.5 514.9,656.5C514.8,658.5 514.8,660.5 514.7,662.5C514.7,664.5 514.6,666.5 514.6,668.5C514.5,670.5 514.5,672.5 514.4,674.5C514.3,676.5 514.3,678.5 514.2,680.5C514.2,682.5 514.1,684.5 514.1,686.5C514.0,688.5 513.9,690.5 513.9,692.5C513.8,694.5 513.8,696.5 513.7,698.5C513.6,700.5 513.6,702.5 513.5,704.5C513.5,706.5 513.4,708.5 513.3,710.5C513.3,712.5 513.2,714.5 513.2,716.5C513.1,718.5 513.0,720.5 513.0,722.5C512.9,724.5 512.8,726.5 512.8,728.5C512.7,730.5 512.6,733.5 512.6,734.5" stroke-width="1.4"/>
<path d="M424.0,259.0C424.7,259.7 427.0,261.7 428.4,263.1C429.9,264.5 431.3,265.9 432.7,267.3C434.1,268.8 435.4,270.2 436.8,271.7C438.1,273.2 439.5,274.7 440.8,276.2C442.1,277.7 443.4,279.2 444.7,280.7C446.0,282.3 447.3,283.8 448.6,285.4C449.9,286.9 451.1,288.5 452.4,290.1C453.7,291.7 454.9,293.2 456.2,294.8C457.5,296.4 458.8,298.0 460.0,299.6C461.3,301.2 462.6,302.8 463.8,304.4C465.1,306.0 466.3,307.6 467.6,309.2C468.8,310.8 470.0,312.4 471.2,314.1C472.4,315.7 473.5,317.4 474.7,319.1C475.8,320.7 476.9,322.4 478.0,324.1C479.1,325.8 480.1,327.5 481.1,329.3C482.1,331.0 483.1,332.8 484.0,334.6C484.9,336.3 485.8,338.1 486.7,339.9C487.5,341.7 488.3,343.6 489.1,345.4C489.9,347.2 490.7,349.1 491.4,351.0C492.1,352.8 492.8,354.7 493.5,356.6C494.1,358.5 494.8,360.4 495.4,362.3C496.0,364.2 496.6,366.1 497.1,368.1C497.7,370.0 498.2,371.9 498.8,373.9C499.3,375.8 499.8,377.8 500.2,379.7C500.7,381.7 501.2,383.7 501.6,385.6C502.1,387.6 502.5,389.6 502.9,391.5C503.3,393.5 503.7,395.5 504.1,397.5C504.5,399.5 504.8,401.5 505.2,403.4C505.6,405.4 505.9,407.4 506.2,409.4C506.6,411.4 506.9,413.4 507.2,415.4C507.5,417.3 507.8,419.3 508.1,421.3C508.4,423.3 508.7,425.3 509.0,427.3C509.3,429.3 509.5,431.3 509.8,433.3C510.0,435.3 510.3,437.3 510.5,439.3C510.7,441.3 510.9,443.3 511.2,445.3C511.4,447.3 511.6,449.3 511.8,451.3C512.0,453.3 512.2,455.3 512.3,457.3C512.5,459.3 512.7,461.3 512.8,463.3C513.0,465.3 513.2,467.3 513.3,469.3C513.4,471.3 513.6,473.3 513.7,475.3C513.8,477.3 514.0,479.3 514.1,481.3C514.2,483.3 514.3,485.3 514.4,487.3C514.5,489.3 514.6,491.4 514.7,493.4C514.8,495.4 514.8,497.4 514.9,499.4C515.0,501.4 515.0,503.4 515.1,505.4C515.2,507.4 515.2,509.5 515.3,511.5C515.3,513.5 515.4,515.5 515.4,517.5C515.4,519.5 515.5,521.5 515.5,523.5C515.5,525.6 515.5,527.6 515.6,529.6C515.6,531.6 515.6,533.6 515.6,535.6C515.6,537.7 515.6,539.7 515.6,541.7C515.6,543.7 515.6,545.7 515.6,547.7C515.6,549.8 515.6,551.8 515.6,553.8C515.5,555.8 515.5,557.8 515.5,559.8C515.5,561.9 515.4,563.9 515.4,565.9C515.4,567.9 515.4,569.9 515.3,572.0C515.3,574.0 515.2,576.0 515.2,578.0C515.2,580.0 515.1,582.0 515.1,584.1C515.0,586.1 515.0,588.1 514.9,590.1C514.9,592.1 514.8,594.2 514.8,596.2C514.7,598.2 514.7,600.2 514.6,602.2C514.6,604.3 514.5,606.3 514.5,608.3C514.4,610.3 514.4,612.3 514.3,614.3C514.3,616.4 514.2,618.4 514.2,620.4C514.1,622.4 514.0,624.4 514.0,626.5C513.9,628.5 513.9,630.5 513.8,632.5C513.8,634.5 513.7,636.5 513.7,638.6C513.6,640.6 513.6,642.6 513.5,644.6C513.5,646.6 513.4,648.6 513.4,650.7C513.3,652.7 513.3,654.7 513.2,656.7C513.2,658.7 513.1,660.7 513.1,662.7C513.1,664.8 513.0,666.8 513.0,668.8C513.0,670.8 512.9,672.8 512.9,674.8C512.9,676.8 512.8,678.9 512.8,680.9C512.8,682.9 512.8,684.9 512.8,686.9C512.7,688.9 512.7,690.9 512.7,692.9C512.7,694.9 512.7,696.9 512.7,698.9C512.7,701.0 512.7,703.0 512.7,705.0C512.7,707.0 512.7,709.0 512.7,711.0C512.8,713.0 512.8,716.0 512.8,717.0" stroke-width="1.0"/>
<path d="M423.8,267.5C424.6,268.0 427.4,269.5 429.1,270.6C430.8,271.7 432.4,272.9 433.9,274.2C435.5,275.4 437.0,276.8 438.4,278.1C439.9,279.5 441.3,280.9 442.6,282.4C444.0,283.9 445.3,285.4 446.6,286.9C447.9,288.5 449.2,290.0 450.4,291.6C451.7,293.2 452.9,294.8 454.1,296.4C455.4,298.1 456.6,299.7 457.8,301.3C459.1,302.9 460.3,304.6 461.5,306.2C462.7,307.8 464.0,309.5 465.2,311.1C466.4,312.8 467.6,314.4 468.7,316.1C469.9,317.7 471.1,319.4 472.2,321.1C473.3,322.8 474.5,324.5 475.5,326.2C476.6,327.9 477.7,329.6 478.7,331.3C479.7,333.1 480.7,334.8 481.6,336.6C482.6,338.4 483.5,340.2 484.3,342.0C485.2,343.8 486.0,345.6 486.7,347.4C487.5,349.3 488.2,351.1 489.0,353.0C489.7,354.9 490.3,356.8 491.0,358.7C491.6,360.6 492.3,362.5 492.9,364.4C493.5,366.3 494.1,368.2 494.6,370.2C495.2,372.1 495.7,374.1 496.3,376.0C496.8,378.0 497.3,380.0 497.8,381.9C498.3,383.9 498.7,385.9 499.2,387.8C499.7,389.8 500.1,391.8 500.5,393.8C501.0,395.8 501.4,397.8 501.8,399.8C502.2,401.8 502.6,403.7 502.9,405.7C503.3,407.7 503.7,409.7 504.0,411.7C504.4,413.7 504.7,415.7 505.1,417.7C505.4,419.7 505.7,421.7 506.0,423.7C506.3,425.7 506.6,427.7 506.9,429.7C507.2,431.7 507.4,433.7 507.7,435.7C508.0,437.7 508.2,439.7 508.5,441.7C508.7,443.7 508.9,445.7 509.1,447.7C509.4,449.7 509.6,451.7 509.8,453.7C510.0,455.7 510.2,457.7 510.4,459.8C510.5,461.8 510.7,463.8 510.9,465.8C511.0,467.8 511.2,469.8 511.3,471.8C511.5,473.8 511.6,475.8 511.8,477.8C511.9,479.9 512.0,481.9 512.1,483.9C512.2,485.9 512.4,487.9 512.5,489.9C512.6,491.9 512.6,494.0 512.7,496.0C512.8,498.0 512.9,500.0 513.0,502.0C513.0,504.0 513.1,506.0 513.2,508.1C513.2,510.1 513.3,512.1 513.3,514.1C513.4,516.1 513.4,518.2 513.5,520.2C513.5,522.2 513.5,524.2 513.5,526.2C513.6,528.3 513.6,530.3 513.6,532.3C513.6,534.3 513.6,536.3 513.6,538.4C513.6,540.4 513.6,542.4 513.6,544.4C513.6,546.4 513.6,548.5 513.6,550.5C513.6,552.5 513.6,554.5 513.6,556.6C513.6,558.6 513.6,560.6 513.5,562.6C513.5,564.7 513.5,566.7 513.5,568.7C513.4,570.7 513.4,572.7 513.4,574.8C513.3,576.8 513.3,578.8 513.2,580.8C513.2,582.9 513.2,584.9 513.1,586.9C513.1,588.9 513.0,591.0 513.0,593.0C513.0,595.0 512.9,597.0 512.9,599.1C512.8,601.1 512.8,603.1 512.7,605.1C512.7,607.2 512.6,609.2 512.6,611.2C512.5,613.2 512.5,615.2 512.4,617.3C512.4,619.3 512.4,621.3 512.3,623.3C512.3,625.4 512.2,627.4 512.2,629.4C512.1,631.4 512.1,633.5 512.0,635.5C512.0,637.5 512.0,639.5 511.9,641.5C511.9,643.6 511.8,645.6 511.8,647.6C511.8,649.6 511.7,651.7 511.7,653.7C511.7,655.7 511.6,657.7 511.6,659.7C511.6,661.8 511.6,663.8 511.6,665.8C511.5,667.8 511.5,669.8 511.5,671.8C511.5,673.9 511.5,675.9 511.5,677.9C511.5,679.9 511.5,681.9 511.5,684.0C511.5,686.0 511.5,689.0 511.5,690.0" stroke-width="1.0"/>
<path d="M470.0,321.0C470.5,321.9 471.9,324.5 472.8,326.3C473.8,328.1 474.7,329.9 475.5,331.7C476.4,333.6 477.2,335.4 478.1,337.2C478.9,339.1 479.7,340.9 480.4,342.8C481.2,344.6 482.0,346.5 482.7,348.4C483.4,350.2 484.1,352.1 484.8,354.0C485.5,355.9 486.2,357.8 486.8,359.7C487.5,361.7 488.1,363.6 488.7,365.5C489.3,367.4 489.9,369.4 490.5,371.3C491.1,373.2 491.6,375.2 492.2,377.1C492.7,379.1 493.2,381.0 493.7,383.0C494.2,385.0 494.7,386.9 495.2,388.9C495.7,390.9 496.1,392.9 496.6,394.9C497.0,396.8 497.4,398.8 497.9,400.8C498.3,402.8 498.7,404.8 499.0,406.8C499.4,408.8 499.8,410.8 500.2,412.8C500.5,414.8 500.9,416.8 501.2,418.8C501.5,420.8 501.9,422.8 502.2,424.8C502.5,426.8 502.8,428.8 503.1,430.8C503.3,432.8 503.6,434.9 503.9,436.9C504.1,438.9 504.4,440.9 504.6,442.9C504.9,444.9 505.1,446.9 505.3,448.9C505.6,450.9 505.8,453.0 506.0,455.0C506.2,457.0 506.4,459.0 506.6,461.0C506.8,463.0 506.9,465.0 507.1,467.1C507.3,469.1 507.4,471.1 507.6,473.1C507.7,475.1 507.9,477.1 508.0,479.1C508.1,481.2 508.3,483.2 508.4,485.2C508.5,487.2 508.6,489.2 508.7,491.3C508.8,493.3 508.9,495.3 509.0,497.3C509.1,499.3 509.2,501.3 509.2,503.4C509.3,505.4 509.4,507.4 509.4,509.4C509.5,511.4 509.6,513.5 509.6,515.5C509.7,517.5 509.7,519.5 509.7,521.6C509.8,523.6 509.8,525.6 509.8,527.6C509.9,529.6 509.9,531.7 509.9,533.7C509.9,535.7 509.9,537.7 510.0,539.8C510.0,541.8 510.0,543.8 510.0,545.8C510.0,547.9 510.0,549.9 510.0,551.9C510.0,553.9 510.0,555.9 509.9,558.0C509.9,560.0 509.9,562.0 509.9,564.0C509.9,566.1 509.9,568.1 509.8,570.1C509.8,572.1 509.8,574.2 509.8,576.2C509.7,578.2 509.7,580.3 509.7,582.3C509.6,584.3 509.6,586.3 509.6,588.4C509.5,590.4 509.5,592.4 509.5,594.4C509.4,596.5 509.4,598.5 509.4,600.5C509.3,602.5 509.3,604.6 509.3,606.6C509.2,608.6 509.2,610.6 509.1,612.7C509.1,614.7 509.1,616.7 509.0,618.7C509.0,620.8 509.0,622.8 508.9,624.8C508.9,626.9 508.9,628.9 508.8,630.9C508.8,632.9 508.8,635.0 508.7,637.0C508.7,639.0 508.7,641.0 508.6,643.1C508.6,645.1 508.6,647.1 508.6,649.1C508.6,651.2 508.5,653.2 508.5,655.2C508.5,657.2 508.5,659.3 508.5,661.3C508.5,663.3 508.5,665.3 508.5,667.4C508.5,669.4 508.5,671.4 508.5,673.4C508.5,675.5 508.5,677.5 508.5,679.5C508.5,681.5 508.5,683.6 508.6,685.6C508.6,687.6 508.6,689.6 508.7,691.7C508.7,693.7 508.7,695.7 508.8,697.7C508.8,699.8 508.9,701.8 508.9,703.8C509.0,705.8 509.0,707.8 509.1,709.9C509.2,711.9 509.3,713.9 509.3,715.9C509.4,718.0 509.6,721.0 509.6,722.0" stroke-width="1.0"/>
<path d="M421.3,276.2C422.1,276.8 424.7,278.3 426.4,279.4C428.1,280.5 429.7,281.7 431.3,282.9C432.8,284.2 434.4,285.5 435.9,286.8C437.3,288.1 438.8,289.5 440.2,291.0C441.6,292.4 443.0,293.9 444.3,295.4C445.6,296.9 446.9,298.5 448.1,300.1C449.4,301.7 450.6,303.3 451.8,305.0C453.0,306.6 454.1,308.3 455.3,310.0C456.4,311.7 457.5,313.4 458.5,315.1C459.6,316.9 460.6,318.6 461.7,320.4C462.7,322.1 463.7,323.9 464.6,325.7C465.6,327.5 466.5,329.2 467.5,331.0C468.4,332.8 469.3,334.6 470.1,336.5C471.0,338.3 471.9,340.1 472.7,341.9C473.5,343.8 474.3,345.6 475.1,347.5C475.9,349.3 476.6,351.2 477.4,353.1C478.1,355.0 478.8,356.9 479.5,358.7C480.2,360.6 480.9,362.6 481.6,364.5C482.2,366.4 482.9,368.3 483.5,370.2C484.1,372.2 484.7,374.1 485.3,376.0C485.9,378.0 486.4,379.9 487.0,381.9C487.5,383.8 488.0,385.8 488.5,387.8C489.1,389.7 489.5,391.7 490.0,393.7C490.5,395.6 491.0,397.6 491.4,399.6C491.9,401.6 492.3,403.6 492.7,405.5C493.1,407.5 493.5,409.5 493.9,411.5C494.3,413.5 494.7,415.5 495.1,417.5C495.4,419.4 495.8,421.4 496.1,423.4C496.4,425.4 496.8,427.4 497.1,429.4C497.4,431.4 497.7,433.4 498.0,435.4C498.3,437.4 498.5,439.4 498.8,441.4C499.1,443.4 499.3,445.4 499.6,447.4C499.8,449.4 500.1,451.4 500.3,453.4C500.5,455.4 500.7,457.4 500.9,459.4C501.1,461.4 501.3,463.4 501.5,465.4C501.7,467.4 501.8,469.4 502.0,471.4C502.2,473.4 502.3,475.5 502.5,477.5C502.6,479.5 502.7,481.5 502.9,483.5C503.0,485.5 503.1,487.5 503.2,489.5C503.3,491.5 503.4,493.6 503.5,495.6C503.6,497.6 503.7,499.6 503.8,501.6C503.9,503.6 503.9,505.6 504.0,507.7C504.1,509.7 504.1,511.7 504.2,513.7C504.2,515.7 504.3,517.8 504.3,519.8C504.4,521.8 504.4,523.8 504.4,525.8C504.5,527.8 504.5,529.9 504.5,531.9C504.5,533.9 504.5,535.9 504.6,538.0C504.6,540.0 504.6,542.0 504.6,544.0C504.6,546.0 504.6,548.1 504.6,550.1C504.6,552.1 504.6,554.1 504.5,556.2C504.5,558.2 504.5,560.2 504.5,562.2C504.5,564.3 504.5,566.3 504.4,568.3C504.4,570.3 504.4,572.4 504.3,574.4C504.3,576.4 504.3,578.4 504.3,580.5C504.2,582.5 504.2,584.5 504.2,586.5C504.1,588.6 504.1,590.6 504.0,592.6C504.0,594.6 504.0,596.7 503.9,598.7C503.9,600.7 503.9,602.7 503.8,604.8C503.8,606.8 503.7,608.8 503.7,610.9C503.7,612.9 503.6,614.9 503.6,616.9C503.6,619.0 503.5,621.0 503.5,623.0C503.5,625.0 503.4,627.1 503.4,629.1C503.4,631.1 503.3,633.1 503.3,635.2C503.3,637.2 503.3,639.2 503.3,641.2C503.2,643.3 503.2,645.3 503.2,647.3C503.2,649.3 503.2,651.4 503.2,653.4C503.2,655.4 503.2,657.4 503.2,659.4C503.2,661.5 503.2,663.5 503.2,665.5C503.2,667.5 503.2,669.6 503.2,671.6C503.2,673.6 503.3,675.6 503.3,677.6C503.3,679.7 503.3,681.7 503.4,683.7C503.4,685.7 503.5,687.7 503.5,689.8C503.6,691.8 503.6,693.8 503.7,695.8C503.8,697.8 503.8,699.8 503.9,701.9C504.0,703.9 504.1,705.9 504.2,707.9C504.2,709.9 504.3,711.9 504.5,713.9C504.6,715.9 504.7,718.0 504.8,720.0C504.9,722.0 505.1,725.0 505.2,726.0" stroke-width="1.0"/>
<path d="M382.5,304.2C383.2,304.9 385.5,306.8 387.0,308.1C388.5,309.5 389.9,310.8 391.4,312.1C392.9,313.5 394.4,314.8 395.9,316.1C397.4,317.5 398.9,318.9 400.3,320.2C401.8,321.6 403.3,323.0 404.7,324.4C406.2,325.7 407.6,327.1 409.1,328.6C410.5,330.0 411.9,331.4 413.3,332.8C414.7,334.3 416.1,335.7 417.5,337.2C418.9,338.6 420.2,340.1 421.6,341.6C422.9,343.1 424.3,344.6 425.6,346.1C426.9,347.6 428.1,349.2 429.4,350.7C430.6,352.3 431.9,353.8 433.1,355.4C434.3,357.0 435.4,358.6 436.6,360.3C437.7,361.9 438.8,363.5 439.9,365.2C441.0,366.9 442.1,368.5 443.1,370.3C444.1,372.0 445.1,373.7 446.1,375.4C447.0,377.2 447.9,378.9 448.9,380.7C449.8,382.5 450.6,384.3 451.5,386.1C452.3,387.9 453.2,389.7 453.9,391.5C454.7,393.3 455.5,395.2 456.3,397.0C457.0,398.9 457.7,400.8 458.4,402.6C459.1,404.5 459.8,406.4 460.4,408.3C461.1,410.2 461.7,412.1 462.3,414.0C462.9,416.0 463.5,417.9 464.1,419.8C464.6,421.7 465.2,423.7 465.7,425.6C466.2,427.6 466.7,429.5 467.2,431.5C467.7,433.4 468.1,435.4 468.6,437.3C469.0,439.3 469.4,441.3 469.9,443.2C470.3,445.2 470.7,447.1 471.0,449.1C471.4,451.1 471.8,453.1 472.1,455.0C472.5,457.0 472.8,459.0 473.1,460.9C473.4,462.9 473.7,464.9 474.0,466.9C474.3,468.9 474.6,470.8 474.8,472.8C475.1,474.8 475.3,476.8 475.6,478.8C475.8,480.8 476.0,482.7 476.2,484.7C476.4,486.7 476.6,488.7 476.8,490.7C477.0,492.7 477.2,494.7 477.3,496.7C477.5,498.7 477.6,500.7 477.8,502.7C477.9,504.7 478.0,506.7 478.1,508.7C478.3,510.7 478.4,512.7 478.5,514.7C478.6,516.7 478.6,518.7 478.7,520.7C478.8,522.7 478.9,524.7 478.9,526.7C479.0,528.7 479.1,530.7 479.1,532.7C479.1,534.7 479.2,536.7 479.2,538.7C479.2,540.7 479.3,542.7 479.3,544.7C479.3,546.7 479.3,548.7 479.3,550.7C479.3,552.7 479.3,554.7 479.3,556.8C479.3,558.8 479.3,560.8 479.3,562.8C479.3,564.8 479.3,566.8 479.3,568.8C479.2,570.8 479.2,572.8 479.2,574.8C479.2,576.8 479.1,578.8 479.1,580.9C479.1,582.9 479.0,584.9 479.0,586.9C478.9,588.9 478.9,590.9 478.9,592.9C478.8,594.9 478.8,596.9 478.7,598.9C478.7,600.9 478.6,602.9 478.6,604.9C478.6,606.9 478.5,608.9 478.5,611.0C478.4,613.0 478.4,615.0 478.3,617.0C478.3,619.0 478.3,621.0 478.2,623.0C478.2,625.0 478.1,627.0 478.1,629.0C478.0,631.0 478.0,633.0 478.0,635.0C477.9,637.0 477.9,639.0 477.8,641.0C477.8,643.0 477.7,645.0 477.7,647.0C477.6,649.0 477.6,651.0 477.5,653.0C477.5,655.0 477.5,657.0 477.4,659.0C477.4,661.0 477.3,662.9 477.3,664.9C477.2,666.9 477.2,668.9 477.1,670.9C477.0,672.9 477.0,674.9 476.9,676.9C476.9,678.9 476.8,680.9 476.8,682.9C476.7,684.9 476.6,686.9 476.6,688.9C476.5,690.9 476.4,692.9 476.4,694.9C476.3,696.9 476.2,698.9 476.2,700.9C476.1,702.9 476.0,704.9 475.9,706.9C475.9,708.9 475.8,710.9 475.7,712.9C475.6,714.9 475.5,716.9 475.5,718.9C475.4,720.9 475.3,722.9 475.2,724.9C475.1,726.9 475.0,728.9 474.9,730.9C474.8,732.9 474.7,734.9 474.6,737.0C474.5,739.0 474.4,741.0 474.3,743.0C474.1,745.0 474.0,748.0 473.9,749.0" stroke-width="1.0"/>
<path d="M368.3,310.2C368.9,311.0 370.7,313.5 372.0,315.0C373.3,316.4 374.8,317.8 376.3,319.1C377.7,320.4 379.3,321.6 380.9,322.7C382.5,323.9 384.2,325.0 385.9,326.0C387.6,327.1 389.3,328.1 391.1,329.1C392.8,330.1 394.6,331.1 396.3,332.2C398.1,333.2 399.8,334.2 401.5,335.3C403.3,336.3 405.0,337.4 406.6,338.5C408.3,339.7 409.9,340.8 411.6,342.0C413.2,343.2 414.7,344.4 416.3,345.7C417.8,347.0 419.3,348.3 420.8,349.6C422.3,351.0 423.7,352.4 425.0,353.8C426.4,355.2 427.7,356.7 429.0,358.2C430.3,359.7 431.5,361.3 432.7,362.9C433.8,364.5 434.9,366.2 436.0,367.9C437.0,369.6 438.0,371.3 439.0,373.0C440.0,374.8 440.9,376.6 441.8,378.4C442.6,380.2 443.5,382.0 444.3,383.9C445.1,385.7 445.9,387.6 446.7,389.5C447.5,391.3 448.2,393.2 448.9,395.1C449.7,397.0 450.4,398.9 451.1,400.8C451.8,402.6 452.5,404.5 453.1,406.4C453.8,408.3 454.5,410.1 455.1,412.0C455.7,413.9 456.3,415.8 456.9,417.7C457.5,419.6 458.1,421.5 458.6,423.4C459.1,425.4 459.6,427.3 460.1,429.2C460.6,431.2 461.1,433.1 461.5,435.1C462.0,437.0 462.4,439.0 462.8,441.0C463.2,442.9 463.6,444.9 464.0,446.8C464.4,448.8 464.8,450.8 465.1,452.7C465.5,454.7 465.8,456.7 466.1,458.7C466.5,460.6 466.8,462.6 467.1,464.6C467.4,466.6 467.7,468.5 468.0,470.5C468.2,472.5 468.5,474.5 468.8,476.5C469.0,478.4 469.2,480.4 469.5,482.4C469.7,484.4 469.9,486.4 470.1,488.4C470.3,490.4 470.5,492.4 470.7,494.4C470.9,496.4 471.1,498.4 471.2,500.3C471.4,502.3 471.5,504.3 471.7,506.3C471.8,508.3 472.0,510.3 472.1,512.3C472.2,514.3 472.3,516.3 472.4,518.3C472.5,520.3 472.6,522.3 472.7,524.4C472.8,526.4 472.9,528.4 473.0,530.4C473.0,532.4 473.1,534.4 473.2,536.4C473.2,538.4 473.3,540.4 473.3,542.4C473.4,544.4 473.4,546.4 473.4,548.4C473.4,550.4 473.5,552.5 473.5,554.5C473.5,556.5 473.5,558.5 473.5,560.5C473.5,562.5 473.5,564.5 473.5,566.5C473.5,568.5 473.5,570.6 473.5,572.6C473.5,574.6 473.5,576.6 473.4,578.6C473.4,580.6 473.4,582.6 473.4,584.6C473.3,586.6 473.3,588.7 473.3,590.7C473.2,592.7 473.2,594.7 473.1,596.7C473.1,598.7 473.0,600.7 473.0,602.7C472.9,604.7 472.9,606.7 472.8,608.7C472.8,610.7 472.7,612.8 472.7,614.8C472.6,616.8 472.6,618.8 472.5,620.8C472.5,622.8 472.4,624.8 472.3,626.8C472.3,628.8 472.2,630.8 472.1,632.8C472.1,634.8 472.0,636.8 472.0,638.8C471.9,640.8 471.8,642.8 471.8,644.8C471.7,646.8 471.6,648.8 471.5,650.8C471.5,652.8 471.4,654.8 471.3,656.8C471.3,658.8 471.2,660.8 471.1,662.8C471.1,664.8 471.0,666.8 470.9,668.8C470.8,670.8 470.8,672.8 470.7,674.8C470.6,676.8 470.6,678.8 470.5,680.8C470.4,682.8 470.3,684.8 470.3,686.8C470.2,688.8 470.1,690.8 470.1,692.8C470.0,694.8 469.9,696.8 469.9,698.8C469.8,700.8 469.7,702.8 469.6,704.8C469.6,706.8 469.5,708.8 469.4,710.8C469.4,712.8 469.3,714.8 469.2,716.8C469.2,718.9 469.1,720.9 469.1,722.9C469.0,724.9 468.9,726.9 468.9,728.9C468.8,730.9 468.7,732.9 468.7,734.9C468.6,736.9 468.6,738.9 468.5,740.9C468.5,742.9 468.4,745.0 468.4,747.0C468.3,749.0 468.2,752.0 468.2,753.0" stroke-width="1.0"/>
<path d="M355.2,318.4C356.0,319.1 358.2,321.1 359.8,322.3C361.4,323.6 363.0,324.7 364.7,325.8C366.4,327.0 368.1,328.0 369.8,329.0C371.6,330.0 373.4,331.0 375.1,331.9C376.9,332.9 378.7,333.8 380.5,334.7C382.3,335.7 384.1,336.6 385.9,337.5C387.7,338.4 389.5,339.3 391.3,340.3C393.1,341.3 394.9,342.3 396.6,343.3C398.3,344.3 400.0,345.4 401.7,346.5C403.4,347.6 405.0,348.7 406.6,349.9C408.2,351.1 409.7,352.4 411.2,353.7C412.7,355.0 414.2,356.3 415.6,357.7C417.0,359.1 418.4,360.6 419.7,362.0C421.0,363.5 422.3,365.0 423.6,366.6C424.8,368.2 426.0,369.7 427.2,371.4C428.3,373.0 429.4,374.6 430.5,376.3C431.6,378.0 432.7,379.7 433.7,381.4C434.7,383.2 435.7,384.9 436.6,386.7C437.6,388.5 438.5,390.3 439.4,392.1C440.3,393.9 441.1,395.8 442.0,397.6C442.8,399.5 443.6,401.3 444.4,403.2C445.1,405.1 445.9,407.0 446.6,408.9C447.3,410.8 448.0,412.7 448.7,414.7C449.3,416.6 450.0,418.5 450.6,420.4C451.2,422.4 451.8,424.3 452.4,426.2C453.0,428.2 453.6,430.1 454.1,432.1C454.6,434.0 455.2,436.0 455.7,437.9C456.2,439.9 456.6,441.8 457.1,443.8C457.6,445.7 458.0,447.7 458.4,449.7C458.9,451.6 459.3,453.6 459.7,455.6C460.0,457.5 460.4,459.5 460.8,461.5C461.1,463.4 461.5,465.4 461.8,467.4C462.1,469.4 462.4,471.4 462.7,473.3C463.0,475.3 463.3,477.3 463.5,479.3C463.8,481.3 464.1,483.3 464.3,485.3C464.5,487.3 464.7,489.3 465.0,491.2C465.2,493.2 465.4,495.2 465.5,497.2C465.7,499.2 465.9,501.2 466.0,503.2C466.2,505.2 466.4,507.2 466.5,509.3C466.6,511.3 466.8,513.3 466.9,515.3C467.0,517.3 467.1,519.3 467.2,521.3C467.3,523.3 467.4,525.3 467.5,527.3C467.5,529.3 467.6,531.4 467.7,533.4C467.7,535.4 467.8,537.4 467.8,539.4C467.9,541.4 467.9,543.4 468.0,545.5C468.0,547.5 468.0,549.5 468.0,551.5C468.1,553.5 468.1,555.5 468.1,557.6C468.1,559.6 468.1,561.6 468.1,563.6C468.1,565.6 468.1,567.7 468.1,569.7C468.1,571.7 468.1,573.7 468.1,575.7C468.1,577.8 468.1,579.8 468.1,581.8C468.0,583.8 468.0,585.8 468.0,587.8C468.0,589.9 468.0,591.9 467.9,593.9C467.9,595.9 467.9,597.9 467.9,599.9C467.8,602.0 467.8,604.0 467.8,606.0C467.7,608.0 467.7,610.0 467.7,612.0C467.6,614.1 467.6,616.1 467.6,618.1C467.5,620.1 467.5,622.1 467.4,624.1C467.4,626.1 467.4,628.2 467.3,630.2C467.3,632.2 467.2,634.2 467.2,636.2C467.1,638.2 467.1,640.2 467.0,642.3C467.0,644.3 466.9,646.3 466.9,648.3C466.8,650.3 466.8,652.3 466.7,654.3C466.7,656.4 466.6,658.4 466.5,660.4C466.5,662.4 466.4,664.4 466.4,666.4C466.3,668.4 466.2,670.4 466.2,672.5C466.1,674.5 466.1,676.5 466.0,678.5C465.9,680.5 465.9,682.5 465.8,684.5C465.7,686.5 465.7,688.6 465.6,690.6C465.5,692.6 465.4,694.6 465.4,696.6C465.3,698.6 465.2,700.6 465.2,702.6C465.1,704.7 465.0,706.7 464.9,708.7C464.9,710.7 464.8,712.7 464.7,714.7C464.6,716.7 464.6,718.7 464.5,720.8C464.4,722.8 464.3,724.8 464.3,726.8C464.2,728.8 464.1,730.8 464.0,732.8C464.0,734.9 463.9,736.9 463.8,738.9C463.7,740.9 463.7,742.9 463.6,744.9C463.5,746.9 463.4,748.9 463.3,751.0C463.3,753.0 463.1,756.0 463.1,757.0" stroke-width="1.0"/>
<path d="M168.0,300.0C168.9,299.4 171.6,297.4 173.5,296.3C175.3,295.2 177.2,294.3 179.1,293.5C180.9,292.7 182.8,292.1 184.7,291.6C186.6,291.0 188.5,290.6 190.4,290.3C192.3,290.1 194.2,289.9 196.2,289.8C198.1,289.7 200.0,289.8 201.9,289.9C203.9,290.0 205.8,290.2 207.7,290.5C209.7,290.7 211.6,291.1 213.5,291.5C215.4,291.9 217.4,292.3 219.3,292.8C221.2,293.3 223.1,293.9 225.0,294.5C226.9,295.1 228.8,295.7 230.7,296.4C232.6,297.0 234.5,297.7 236.4,298.4C238.3,299.1 240.2,299.8 242.0,300.5C243.9,301.3 245.8,302.0 247.6,302.8C249.5,303.6 251.3,304.3 253.2,305.1C255.1,305.9 256.9,306.7 258.8,307.5C260.6,308.3 262.5,309.1 264.3,309.9C266.2,310.7 268.0,311.6 269.9,312.4C271.7,313.2 273.6,313.9 275.4,314.7C277.3,315.5 279.1,316.3 281.0,317.1C282.9,317.8 284.7,318.6 286.6,319.3C288.5,320.0 290.3,320.7 292.2,321.4C294.1,322.1 296.0,322.7 297.9,323.4C299.8,324.0 301.7,324.6 303.6,325.2C305.5,325.7 307.4,326.3 309.3,326.8C311.2,327.3 313.2,327.8 315.1,328.3C317.0,328.8 318.9,329.3 320.9,329.8C322.8,330.2 324.7,330.7 326.7,331.1C328.6,331.6 330.6,332.1 332.5,332.5C334.4,333.0 336.4,333.4 338.3,333.9C340.3,334.4 342.2,334.9 344.1,335.4C346.1,335.9 348.0,336.4 349.9,337.0C351.8,337.5 353.8,338.1 355.7,338.7C357.6,339.3 359.5,339.9 361.4,340.6C363.3,341.3 365.2,341.9 367.0,342.7C368.9,343.4 370.8,344.1 372.6,344.9C374.5,345.7 376.3,346.6 378.1,347.4C379.9,348.3 381.7,349.2 383.5,350.1C385.3,351.1 387.0,352.1 388.8,353.1C390.5,354.1 392.2,355.2 393.9,356.3C395.5,357.4 397.2,358.5 398.8,359.7C400.4,360.9 402.0,362.1 403.6,363.4C405.2,364.6 406.7,365.9 408.2,367.2C409.7,368.6 411.1,369.9 412.5,371.3C414.0,372.8 415.3,374.2 416.7,375.7C418.0,377.1 419.3,378.7 420.6,380.2C421.8,381.7 423.0,383.3 424.2,384.9C425.4,386.5 426.5,388.2 427.6,389.9C428.7,391.5 429.7,393.2 430.7,394.9C431.7,396.7 432.6,398.4 433.6,400.2C434.5,402.0 435.4,403.8 436.2,405.6C437.1,407.4 437.9,409.2 438.6,411.0C439.4,412.9 440.2,414.8 440.9,416.6C441.6,418.5 442.3,420.4 442.9,422.3C443.6,424.1 444.2,426.0 444.8,427.9C445.4,429.8 446.0,431.8 446.5,433.7C447.1,435.6 447.6,437.5 448.1,439.4C448.6,441.4 449.0,443.3 449.5,445.3C449.9,447.2 450.3,449.2 450.7,451.1C451.1,453.1 451.5,455.0 451.9,457.0C452.2,459.0 452.6,460.9 452.9,462.9C453.2,464.9 453.5,466.9 453.8,468.9C454.1,470.9 454.4,472.8 454.6,474.8C454.9,476.8 455.1,478.8 455.3,480.8C455.6,482.8 455.8,484.8 456.0,486.8C456.2,488.8 456.4,490.8 456.5,492.8C456.7,494.8 456.9,496.8 457.0,498.8C457.2,500.8 457.3,502.9 457.5,504.9C457.6,506.9 457.8,508.9 457.9,510.9C458.0,512.9 458.1,514.9 458.2,516.9C458.4,518.9 458.5,520.9 458.6,522.9C458.7,524.9 458.8,526.9 458.8,528.9C458.9,530.9 459.0,532.9 459.1,534.9C459.2,536.9 459.2,538.9 459.3,541.0C459.4,543.0 459.4,545.0 459.5,547.0C459.6,549.0 459.6,551.0 459.7,553.0C459.7,555.0 459.7,557.0 459.8,559.0C459.8,561.0 459.9,563.0 459.9,565.0C459.9,567.0 459.9,569.0 460.0,571.0C460.0,573.0 460.0,575.0 460.0,577.0C460.0,579.0 460.0,581.0 460.0,583.0C460.0,585.0 460.0,587.0 460.0,589.0C460.0,591.0 460.0,593.0 460.0,595.0C460.0,597.0 460.0,599.0 460.0,601.0C459.9,603.0 459.9,605.0 459.9,607.0C459.9,608.9 459.9,610.9 459.8,612.9C459.8,614.9 459.8,616.9 459.7,618.9C459.7,620.9 459.7,622.9 459.6,624.9C459.6,626.9 459.5,628.9 459.5,630.9C459.5,632.9 459.4,634.9 459.4,636.9C459.3,638.9 459.3,640.9 459.2,642.9C459.2,644.9 459.1,646.9 459.1,648.9C459.0,650.9 458.9,652.9 458.9,654.9C458.8,656.9 458.8,658.9 458.7,660.9C458.7,662.9 458.6,664.9 458.5,666.9C458.5,668.9 458.4,670.9 458.4,672.9C458.3,674.9 458.2,676.9 458.2,678.9C458.1,680.9 458.0,682.9 458.0,684.9C457.9,686.9 457.8,688.9 457.8,690.9C457.7,692.9 457.7,694.9 457.6,696.9C457.5,698.9 457.5,700.9 457.4,702.9C457.3,704.9 457.3,706.9 457.2,708.9C457.2,710.9 457.1,712.9 457.0,714.9C457.0,716.9 456.9,718.9 456.9,720.9C456.8,722.9 456.8,724.9 456.7,726.9C456.6,728.9 456.6,730.9 456.5,732.9C456.5,734.9 456.4,736.9 456.4,738.9C456.3,740.9 456.3,743.0 456.2,745.0C456.2,747.0 456.2,749.0 456.1,751.0C456.1,753.0 456.0,756.0 456.0,757.0" stroke-width="1.0"/>
<path d="M225.0,317.5C228.7,319.9 239.3,327.6 246.9,331.6C254.5,335.6 261.4,338.2 270.3,341.7C279.2,345.2 290.1,349.9 300.0,352.7C309.9,355.5 321.4,357.0 330.0,358.4C338.6,359.8 345.5,360.4 351.9,361.1C358.3,361.8 363.6,362.2 368.3,362.8C373.0,363.4 378.1,364.6 380.0,365.0" stroke-width="1.0"/>
<path d="M316.9,310.0C317.0,313.3 317.6,323.3 317.5,330.0C317.4,336.7 316.8,344.3 316.5,350.0C316.2,355.7 316.1,362.0 316.0,364.4" stroke-width="1.0"/>
<path d="M349.7,302.0C350.4,304.0 353.6,309.7 354.1,314.1C354.7,318.5 353.6,324.1 353.0,328.3C352.4,332.5 351.3,335.2 350.8,339.2C350.3,343.2 350.0,348.2 350.2,352.4C350.4,356.6 351.6,362.4 351.9,364.4" stroke-width="1.0"/>
<path d="M444.0,280.0C443.2,280.7 443.0,281.1 439.0,284.4C435.0,287.7 426.5,294.9 420.0,300.0C413.5,305.1 405.9,311.0 400.0,315.2C394.1,319.4 388.7,322.3 384.7,325.0C380.7,327.7 378.2,328.7 376.0,331.6C373.8,334.5 372.7,338.9 371.6,342.5C370.5,346.1 369.9,350.2 369.4,353.5C368.8,356.8 368.5,360.8 368.3,362.2" stroke-width="1.0"/>
<path d="M262.0,230.5C260.1,231.2 253.9,233.3 250.6,235.0C247.3,236.7 245.2,238.3 242.2,240.6C239.2,242.9 235.6,245.9 232.8,249.0C230.0,252.1 227.6,254.7 225.3,259.4C223.0,264.1 220.7,272.1 218.8,277.2C216.8,282.3 214.5,286.2 213.5,290.0C212.5,293.8 212.5,296.7 212.5,300.0C212.5,303.3 213.2,308.1 213.3,309.7" stroke-width="1.0"/>
<path d="M241.0,273.0C239.9,273.7 236.7,275.4 234.7,277.2C232.7,279.0 230.4,280.7 229.0,283.7C227.6,286.7 227.1,290.9 226.5,295.0C225.9,299.1 225.8,304.0 225.5,308.0C225.2,312.0 225.1,317.2 225.0,319.0" stroke-width="1.0"/>
<path d="M256.0,287.0C255.0,288.5 251.5,293.0 250.0,296.0C248.5,299.0 247.6,299.9 246.9,305.0C246.2,310.1 246.0,321.4 246.1,326.9C246.2,332.4 247.4,336.0 247.7,337.8" stroke-width="1.0"/>
<path d="M170.0,299.0C171.2,297.5 175.2,292.8 177.5,290.0C179.8,287.2 182.9,283.3 184.0,282.0" stroke-width="0.9"/>
<path d="M199.4,263.8C201.1,263.0 205.1,260.2 209.4,259.4C213.7,258.6 220.0,259.4 225.3,258.9C230.6,258.3 238.5,256.6 241.2,256.1" stroke-width="1.0"/>
<path d="M190.0,273.1C191.7,272.5 195.2,270.5 200.0,269.7C204.8,268.9 213.6,268.8 218.8,268.3C223.9,267.8 227.4,267.4 230.9,266.9C234.4,266.3 238.5,265.3 240.0,265.0" stroke-width="1.0"/>
<path d="M183.4,282.5C186.2,281.4 194.1,277.0 200.0,276.2C205.9,275.4 213.6,277.6 218.8,277.6C223.9,277.6 227.3,276.9 230.9,276.2C234.5,275.5 238.9,273.9 240.5,273.5" stroke-width="1.0"/>
<ellipse cx="330.9" cy="264.65" rx="90.70000000000002" ry="45.150000000000006" fill="#fff" stroke="none"/>
<ellipse cx="330.9" cy="264.65" rx="90.7" ry="45.15" stroke-width="1.3"/>
<ellipse cx="331.5" cy="264.25" rx="88.2" ry="43.45" stroke-width="0.8"/>
<ellipse cx="330.65" cy="264.2" rx="80.65" ry="41.4" stroke-width="0.9"/>
<ellipse cx="330.55" cy="267.18" rx="70.95" ry="36.43" stroke-width="1.0"/>
<ellipse cx="331.0" cy="270.8" rx="65.6" ry="30.8" stroke-width="1.1"/>
<path d="M246.3,264.4 A85.7,42.5 0 0 1 417.6,264.4" stroke-width="1.0"/>
<path d="M248.3,264.2 A83.1,41.8 0 0 1 414.5,264.2" stroke-width="1.0"/>
<path d="M261.9,267.7 A68.6,35.1 0 0 1 399.0,267.7" stroke-width="1.0"/>
<path d="M264.0,269.2 A66.8,32.8 0 0 1 397.5,269.2" stroke-width="1.0"/>
<clipPath id="hole"><ellipse cx="331.0" cy="270.8" rx="65.60000000000002" ry="30.80000000000001"/></clipPath>
<g clip-path="url(#hole)">
<ellipse cx="330" cy="294" rx="60" ry="20" stroke-width="1.0"/>
<ellipse cx="330" cy="296" rx="59" ry="19" stroke-width="1.0"/>
<ellipse cx="330" cy="299" rx="58" ry="18" stroke-width="1.0"/>
</g>
<path d="M290,281 L291,285 M341,277 L341,281.5 M367.5,279 L367,283.5" stroke-width="1.0"/>
<path d="M250.8,270.2L260.3,272.4 M250.0,264.4L259.6,267.4 M250.5,259.8L260.0,263.3 M252.0,255.1L261.3,259.2 M255.3,249.5L264.2,254.2 M259.3,244.9L267.8,250.2 M265.4,239.9L273.2,245.8 M275.6,233.9L282.2,240.5 M287.8,229.1L292.8,236.3 M297.7,226.4L301.6,233.9 M313.1,223.8L315.1,231.6 M328.5,222.8L328.7,230.8 M344.0,223.4L342.3,231.2 M372.2,228.7L367.1,236.0 M391.9,237.3L384.4,243.5 M401.1,244.1L392.5,249.5 M406.9,250.7L397.6,255.3 M410.4,258.2L400.7,261.9 M411.3,264.8L401.5,267.7 M409.3,273.4L399.7,275.3" stroke-width="1.0"/>
<path d="M318.0,310.4C320.5,310.5 327.7,310.6 333.0,311.0C338.3,311.4 345.2,313.0 350.0,313.1C354.8,313.2 357.0,313.2 362.0,311.9C367.0,310.6 373.7,307.9 380.0,305.5C386.3,303.1 394.7,300.0 400.0,297.5C405.3,295.0 408.8,292.9 412.0,290.5C415.2,288.1 417.8,284.2 419.0,283.0" stroke-width="1.0"/>
<path d="M322.0,308.8C324.7,308.9 333.0,309.3 338.0,309.6C343.0,309.9 347.7,310.9 352.0,310.8C356.3,310.7 359.0,310.5 364.0,309.2C369.0,307.9 376.0,305.3 382.0,303.0C388.0,300.7 395.2,297.6 400.0,295.2C404.8,292.8 408.0,290.9 411.0,288.5C414.0,286.1 416.8,282.2 418.0,281.0" stroke-width="0.9"/>
<path d="M365.2,222.6C366.1,222.8 369.1,223.4 371.0,223.9C372.9,224.3 374.7,224.8 376.6,225.3C378.4,225.9 380.2,226.4 381.9,227.0C383.7,227.6 385.4,228.2 387.0,228.9C388.7,229.5 390.3,230.2 391.9,230.9C393.5,231.6 395.0,232.3 396.4,233.1C397.9,233.8 399.3,234.6 400.7,235.4C402.0,236.2 403.3,237.1 404.6,237.9C405.8,238.8 407.0,239.6 408.1,240.5C409.2,241.4 410.8,242.8 411.3,243.3" stroke-width="1.3"/>
<g transform="translate(174.9 425.8) rotate(19)"><ellipse cx="0" cy="0" rx="8.4" ry="17" fill="#fff" stroke-width="1.1"/><ellipse cx="-1.7" cy="0.4" rx="6.6" ry="15.6" stroke-width="0.8"/><ellipse cx="-2.6" cy="0.6" rx="5.1" ry="14.6" stroke-width="0.8"/><ellipse cx="-3.0" cy="0.3" rx="4.2" ry="13.6" stroke-width="1.0"/><path d="M-4.2,-12.6 C-6.8,-9.5 -8.0,-3 -7.6,4.5 C-7.0,-2 -6.4,-8 -4.2,-12.6Z" fill="#000" stroke-width="0.8"/></g>
<g transform="translate(173.6 471.7) rotate(19)"><ellipse cx="0" cy="0" rx="8.4" ry="17" fill="#fff" stroke-width="1.1"/><ellipse cx="-1.7" cy="0.4" rx="6.6" ry="15.6" stroke-width="0.8"/><ellipse cx="-2.6" cy="0.6" rx="5.1" ry="14.6" stroke-width="0.8"/><ellipse cx="-3.0" cy="0.3" rx="4.2" ry="13.6" stroke-width="1.0"/><path d="M-4.2,-12.6 C-6.8,-9.5 -8.0,-3 -7.6,4.5 C-7.0,-2 -6.4,-8 -4.2,-12.6Z" fill="#000" stroke-width="0.8"/></g>
<g transform="translate(173.2 517.3) rotate(19)"><ellipse cx="0" cy="0" rx="8.4" ry="17" fill="#fff" stroke-width="1.1"/><ellipse cx="-1.7" cy="0.4" rx="6.6" ry="15.6" stroke-width="0.8"/><ellipse cx="-2.6" cy="0.6" rx="5.1" ry="14.6" stroke-width="0.8"/><ellipse cx="-3.0" cy="0.3" rx="4.2" ry="13.6" stroke-width="1.0"/><path d="M-4.2,-12.6 C-6.8,-9.5 -8.0,-3 -7.6,4.5 C-7.0,-2 -6.4,-8 -4.2,-12.6Z" fill="#000" stroke-width="0.8"/></g>
<g transform="translate(173.7 562.9) rotate(19)"><ellipse cx="0" cy="0" rx="8.4" ry="17" fill="#fff" stroke-width="1.1"/><ellipse cx="-1.7" cy="0.4" rx="6.6" ry="15.6" stroke-width="0.8"/><ellipse cx="-2.6" cy="0.6" rx="5.1" ry="14.6" stroke-width="0.8"/><ellipse cx="-3.0" cy="0.3" rx="4.2" ry="13.6" stroke-width="1.0"/><path d="M-4.2,-12.6 C-6.8,-9.5 -8.0,-3 -7.6,4.5 C-7.0,-2 -6.4,-8 -4.2,-12.6Z" fill="#000" stroke-width="0.8"/></g>
<g transform="translate(174.6 609.4) rotate(19)"><ellipse cx="0" cy="0" rx="8.4" ry="17" fill="#fff" stroke-width="1.1"/><ellipse cx="-1.7" cy="0.4" rx="6.6" ry="15.6" stroke-width="0.8"/><ellipse cx="-2.6" cy="0.6" rx="5.1" ry="14.6" stroke-width="0.8"/><ellipse cx="-3.0" cy="0.3" rx="4.2" ry="13.6" stroke-width="1.0"/><path d="M-4.2,-12.6 C-6.8,-9.5 -8.0,-3 -7.6,4.5 C-7.0,-2 -6.4,-8 -4.2,-12.6Z" fill="#000" stroke-width="0.8"/></g>
<g transform="translate(176.1 655.5) rotate(19)"><ellipse cx="0" cy="0" rx="8.4" ry="17" fill="#fff" stroke-width="1.1"/><ellipse cx="-1.7" cy="0.4" rx="6.6" ry="15.6" stroke-width="0.8"/><ellipse cx="-2.6" cy="0.6" rx="5.1" ry="14.6" stroke-width="0.8"/><ellipse cx="-3.0" cy="0.3" rx="4.2" ry="13.6" stroke-width="1.0"/></g>
<path d="M124.6,768.0C124.6,769.2 124.8,772.9 124.9,775.0C125.0,777.1 125.0,778.6 125.0,780.5C125.0,782.4 125.0,784.3 125.2,786.1C125.4,787.9 125.6,789.8 126.1,791.2C126.6,792.7 127.4,794.1 128.4,795.0C129.4,795.9 130.9,796.2 132.2,796.4C133.5,796.5 134.5,796.4 136.4,795.9C138.3,795.4 141.1,794.1 143.4,793.1C145.7,792.1 146.9,791.6 150.0,789.8C153.1,787.9 157.9,784.9 162.1,782.0C166.3,779.1 171.0,775.2 175.0,772.2C179.0,769.2 182.3,767.0 185.9,764.2C189.5,761.4 193.4,758.6 196.7,755.5C199.9,752.4 203.0,748.8 205.4,745.4C207.8,742.0 209.8,738.2 211.2,735.3C212.5,732.4 213.1,729.7 213.5,728.0C213.9,726.3 213.6,725.5 213.6,725.0" stroke-width="1.3"/>
<path d="M124.2,780.9C125.1,781.3 127.4,783.1 129.4,783.3C131.4,783.5 134.1,783.0 136.4,782.3C138.7,781.6 141.1,780.3 143.4,779.1C145.7,777.9 147.7,777.0 150.0,775.3C152.3,773.6 153.0,772.1 157.2,768.8C161.4,765.5 169.5,759.6 175.0,755.5C180.5,751.4 185.8,747.4 190.0,744.2C194.2,741.0 197.4,739.0 200.3,736.5C203.2,734.0 205.6,731.8 207.6,729.5C209.6,727.2 211.8,723.7 212.6,722.5" stroke-width="1.2"/>
<path d="M150.9,716.5C155.3,712.6 166.2,705.9 174.0,700.6C181.8,695.3 192.8,687.7 197.4,684.6C202.0,681.5 200.2,682.7 201.5,682.3C202.8,681.9 204.1,681.4 205.4,682.0C206.7,682.6 208.5,682.5 209.4,686.0C210.3,689.5 210.4,697.9 210.7,703.2C211.0,708.5 211.2,714.2 211.0,718.0C210.8,721.8 210.5,723.6 209.4,725.8C208.3,728.0 207.7,728.3 204.5,731.0C201.3,733.7 194.9,738.2 190.0,741.8C185.1,745.4 180.3,748.9 175.0,752.8C169.7,756.7 161.8,762.4 158.0,765.2C154.2,768.0 154.2,768.8 152.5,769.5C150.8,770.2 148.8,770.1 147.5,769.5C146.2,768.9 145.4,767.6 144.7,765.8C144.0,764.0 143.8,762.0 143.5,758.8C143.2,755.5 142.9,750.3 143.1,746.2C143.3,742.2 144.0,738.2 144.7,734.5C145.4,730.8 146.5,727.0 147.5,724.0C148.5,721.0 146.5,720.4 150.9,716.5Z" stroke-width="1.3" fill="#fff"/>
<path d="M152.8,719.2L198.5,687.6" stroke-width="0.9"/>
<path d="M147.0,753.7C150.0,751.4 159.0,744.4 165.0,740.0C171.0,735.6 178.8,730.3 182.8,727.1C186.8,723.9 187.4,722.8 189.0,721.0C190.6,719.2 191.4,719.0 192.1,716.5C192.8,714.0 193.2,709.3 193.4,706.0C193.6,702.7 193.3,699.3 193.4,696.6C193.5,693.9 193.9,691.1 194.0,690.0" stroke-width="1.1"/>
<path d="M148.0,757.0C151.0,754.8 160.0,748.3 166.0,744.0C172.0,739.7 179.8,734.2 184.0,731.0C188.2,727.8 189.2,727.2 191.0,725.0C192.8,722.8 194.0,721.2 195.0,718.0C196.0,714.8 196.7,710.3 197.0,706.0C197.3,701.7 197.0,694.3 197.0,692.0" stroke-width="0.9"/>
<path d="M147.0,764.0C148.2,763.8 149.8,765.0 154.0,762.7C158.2,760.4 166.0,754.4 172.0,750.2C178.0,746.0 185.2,741.1 190.0,737.7C194.8,734.3 199.2,731.3 201.0,730.0" stroke-width="0.9"/>
<path d="M146.0,759.0C146.7,759.2 148.3,759.3 150.0,760.5C151.7,761.7 154.8,764.6 156.0,766.0C157.2,767.4 157.2,768.5 157.5,769.0" stroke-width="0.9"/>
<path d="M201.0,690.0C201.7,690.5 203.7,692.0 205.0,693.0C206.3,694.0 208.3,695.5 209.0,696.0" stroke-width="0.9"/>
<path d="M198.0,705.0C199.0,705.2 202.0,705.7 204.0,706.0C206.0,706.3 209.0,706.8 210.0,707.0" stroke-width="0.9"/>
<path d="M196.0,719.0C197.0,719.5 200.0,721.2 202.0,722.0C204.0,722.8 207.0,723.7 208.0,724.0" stroke-width="0.9"/>
<path d="M202.0,687.0C202.2,689.2 203.0,695.3 203.0,700.0C203.0,704.7 202.7,711.0 202.0,715.0C201.3,719.0 200.0,721.8 199.0,724.0C198.0,726.2 196.5,727.3 196.0,728.0" stroke-width="0.9"/>
<path d="M177.0,740.0L180.0,746.0" stroke-width="0.9"/>
<path d="M155.0,756.5L157.0,764.0" stroke-width="0.9"/>
<path d="M187.0,727.0C188.8,727.5 195.0,729.7 198.0,730.0C201.0,730.3 203.8,729.2 205.0,729.0" stroke-width="0.9"/>
<path d="M449.2,766.0C449.4,767.5 449.6,772.7 450.1,774.9C450.6,777.1 451.4,778.2 452.2,779.2C453.0,780.2 452.7,781.4 455.1,780.7C457.5,780.0 462.9,777.3 466.7,774.9C470.5,772.5 474.4,769.4 478.0,766.5C481.6,763.6 485.2,760.1 488.4,757.5C491.5,754.9 494.1,753.3 496.9,751.0C499.7,748.7 503.1,746.2 505.3,743.9C507.6,741.6 509.2,739.1 510.4,737.1C511.6,735.1 511.9,734.0 512.3,732.0C512.7,730.0 512.7,726.2 512.8,725.0" stroke-width="1.3"/>
<path d="M449.2,758.2C450.3,758.6 453.6,760.6 455.9,760.5C458.2,760.4 460.1,759.3 463.1,757.5C466.1,755.7 471.1,751.6 473.9,749.5C476.7,747.4 477.6,746.8 480.0,745.0C482.4,743.2 484.9,741.7 488.4,739.0C491.9,736.3 497.1,732.0 501.1,728.7C505.1,725.4 510.6,721.0 512.5,719.4" stroke-width="1.1"/>
<g transform="translate(489.8 705.7) rotate(24)"><ellipse cx="0" cy="0" rx="17.3" ry="32.5" fill="#fff" stroke-width="1.2"/><ellipse cx="1.6" cy="0.3" rx="15.7" ry="31.6" stroke-width="0.9"/><ellipse cx="3.4" cy="0.6" rx="13.9" ry="30.6" stroke-width="1.1"/></g>
<text x="0" y="0" font-size="100" transform="matrix(0.21484 0 0 0.21333 494.93 21.29)">200</text>
<text x="0" y="0" font-size="100" transform="matrix(0.21123 0 0 0.21926 592.25 190.48)">207</text>
<text x="0" y="0" font-size="100" transform="matrix(0.20842 0 0 0.21926 566.46 232.28)">207</text>
<text x="0" y="0" font-size="100" transform="matrix(0.21679 0 0 0.21333 532.05 277.69)">100</text>
<text x="0" y="0" font-size="100" transform="matrix(0.21543 0 0 0.21333 272.36 139.29)">1011</text>
<text x="0" y="0" font-size="100" transform="matrix(0.21111 0 0 0.21333 103.60 198.89)">101</text>
<text x="0" y="0" font-size="100" transform="matrix(0.21624 0 0 0.21926 3.95 362.28)">102</text>
<text x="0" y="0" font-size="100" transform="matrix(0.21314 0 0 0.20889 602.18 436.49)">103</text>
<text x="0" y="0" font-size="100" transform="matrix(0.20647 0 0 0.21926 17.84 625.48)">1022</text>
<text x="0" y="0" font-size="100" transform="matrix(0.20270 0 0 0.22000 179.08 820.88)">1021</text>
<path d="M497.0,30.5C494.5,32.4 486.5,37.8 482.0,42.0C477.5,46.2 473.3,51.3 470.0,56.0C466.7,60.7 463.9,65.3 462.0,70.0C460.1,74.7 459.2,79.5 458.5,84.0C457.8,88.5 457.7,92.7 457.5,97.0C457.3,101.3 457.5,107.8 457.5,110.0"/>
<path d="M546.5,162.0C546.9,162.8 548.0,165.2 549.0,166.5C550.0,167.8 550.5,168.3 552.2,169.7C553.9,171.0 556.2,173.3 559.2,174.6C562.2,175.9 566.5,176.5 570.5,177.4C574.5,178.3 579.8,179.1 583.1,180.2C586.4,181.3 589.0,183.2 590.2,183.8"/>
<path d="M517.0,190.0C517.7,191.3 519.4,195.1 521.3,197.8C523.2,200.5 525.5,204.0 528.3,206.3C531.1,208.7 534.4,210.3 538.1,211.9C541.9,213.5 546.1,214.7 550.8,216.1C555.5,217.5 563.7,219.6 566.3,220.3"/>
<path d="M526.0,275.7C522.8,275.8 513.0,275.5 507.0,276.2C501.0,276.9 495.7,278.2 490.0,279.6C484.3,281.0 478.7,282.7 473.0,284.8C467.3,286.9 461.5,289.6 456.0,292.5C450.5,295.4 442.7,300.4 440.0,302.0"/>
<path d="M489.1,444.6C494.4,444.5 511.3,444.1 520.6,444.2C529.9,444.3 537.6,444.8 545.0,445.0C552.4,445.2 558.8,445.7 565.0,445.4C571.2,445.1 577.5,444.1 582.0,443.2C586.5,442.3 589.0,441.1 592.0,440.0C595.0,438.9 598.5,437.3 599.8,436.8"/>
<path d="M38.1,360.2C40.1,361.2 45.5,364.3 50.3,366.3C55.0,368.3 59.8,370.7 66.6,372.3C73.4,373.9 81.8,374.9 90.9,376.0C100.0,377.1 112.1,377.7 121.4,378.8C130.7,379.9 142.3,381.9 146.5,382.5"/>
<path d="M289.9,147.9C289.9,150.6 289.4,158.5 289.7,164.2C290.0,169.9 290.3,176.3 291.5,182.3C292.7,188.3 294.7,194.0 296.9,200.4C299.1,206.8 302.6,215.7 304.8,220.9C307.0,226.1 308.7,228.6 310.2,231.8C311.7,235.0 312.7,237.7 313.8,240.0C314.9,242.3 316.5,244.6 317.0,245.5"/>
<path d="M323.9,256.5L313.4,248.4L320.6,243.7Z" fill="#000" stroke-width="0.5"/>
<path d="M144.5,191.8C147.9,192.3 157.4,193.6 165.0,195.0C172.6,196.4 181.7,197.7 190.0,200.0C198.3,202.3 206.7,205.2 215.0,208.8C223.3,212.3 233.3,217.7 240.0,221.2C246.7,224.8 249.2,226.5 255.0,230.0C260.8,233.5 268.3,237.9 275.0,242.5C281.7,247.1 290.0,253.4 295.0,257.5C300.0,261.6 302.5,264.3 305.0,267.0C307.5,269.7 309.2,272.4 310.0,273.5"/>
<path d="M318.7,284.2L307.5,277.1L314.2,271.8Z" fill="#000" stroke-width="0.5"/>
<path d="M63.7,619.5C68.7,620.1 82.5,622.4 93.8,623.2C105.0,624.0 121.9,624.4 131.2,624.4C140.6,624.4 145.5,623.5 150.0,623.0C154.5,622.5 156.7,621.8 158.0,621.5"/>
<path d="M166.6,619.3L154.9,626.4L153.0,618.2Z" fill="#000" stroke-width="0.5"/>
<path d="M205.2,800.0C204.8,795.2 204.2,779.1 202.6,771.5C201.0,763.9 198.9,759.7 195.8,754.4C192.7,749.1 186.7,742.9 183.8,739.8C180.8,736.7 179.0,736.6 178.0,736.0"/>
<path d="M171.7,731.2L184.5,736.1L179.2,742.6Z" fill="#000" stroke-width="0.5"/>
</svg>
</body></html>
